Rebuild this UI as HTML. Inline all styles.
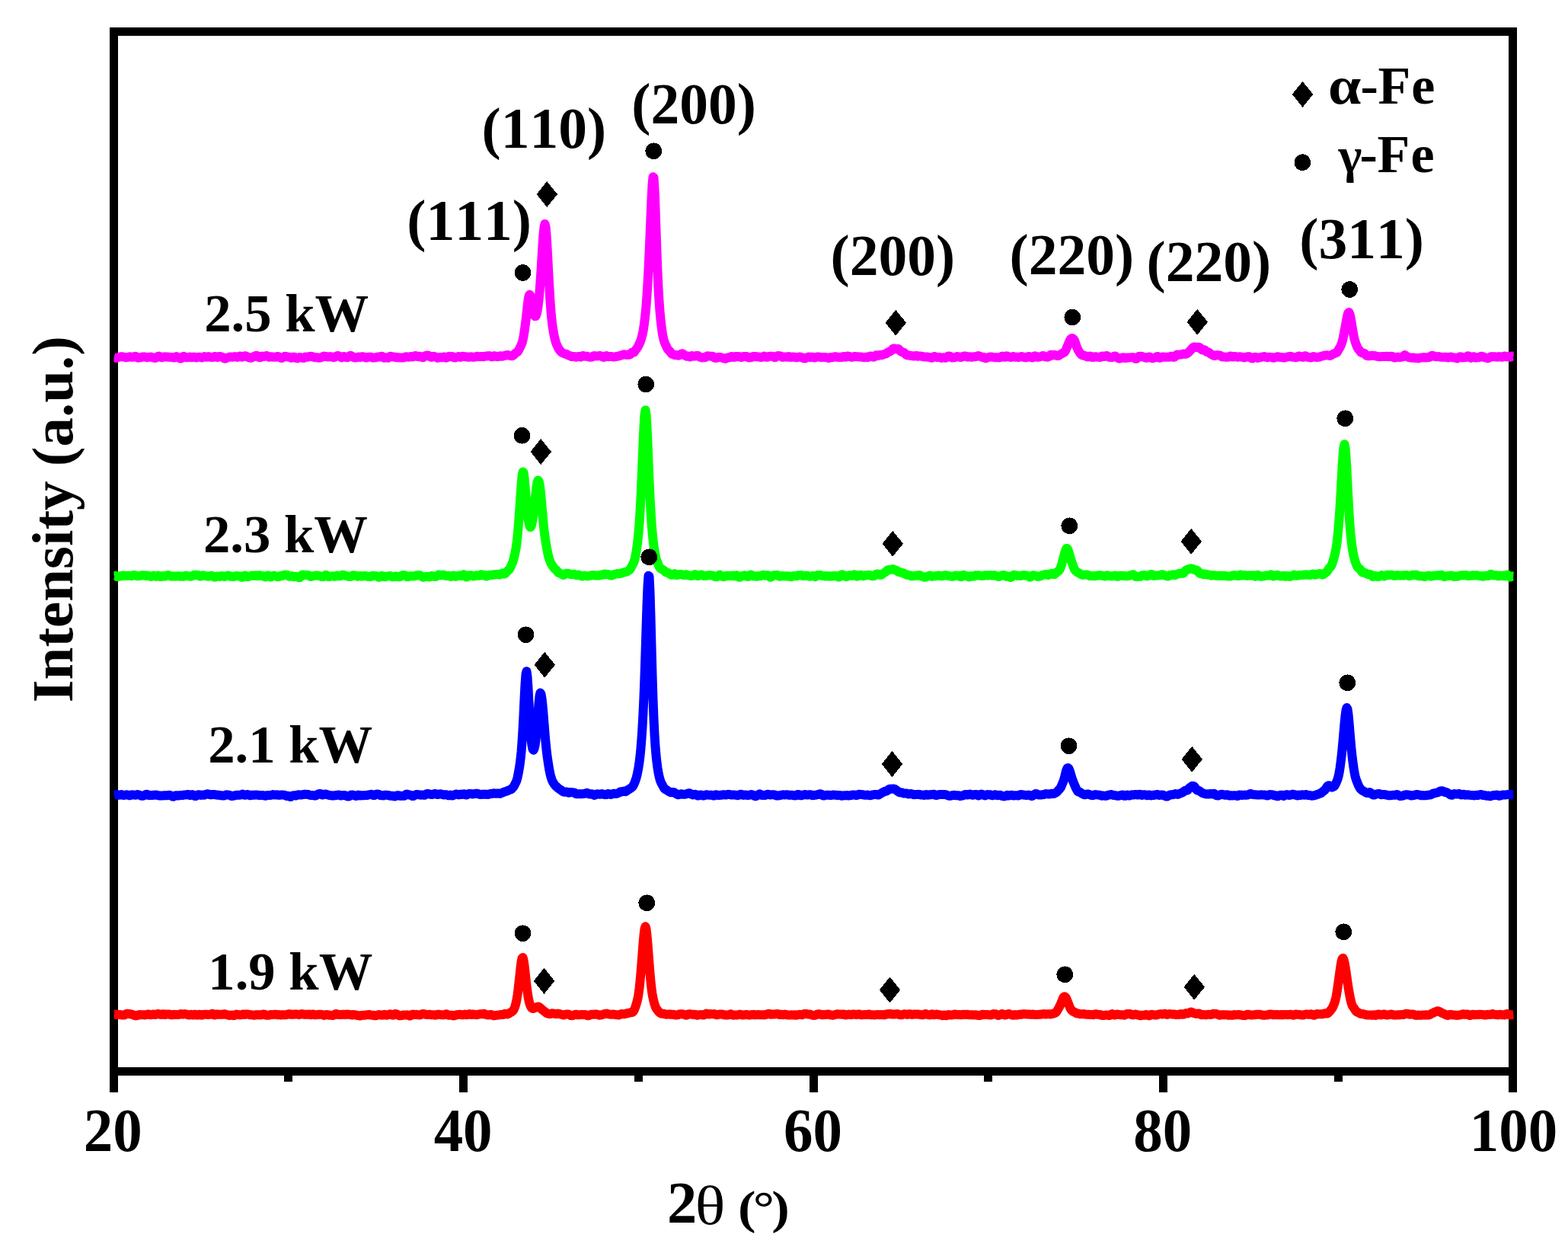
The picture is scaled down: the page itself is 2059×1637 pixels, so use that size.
<!DOCTYPE html>
<html lang="en"><head><meta charset="utf-8"><title>XRD patterns</title>
<style>html,body{margin:0;padding:0;background:#fff}body{width:2059px;height:1637px;overflow:hidden}svg{display:block}text{font-kerning:none;font-variant-ligatures:none;font-family:"Liberation Serif",serif;font-weight:bold;fill:#000}</style></head><body>
<svg width="2059" height="1637" viewBox="0 0 2059 1637">
<rect width="2059" height="1637" fill="#fff"/>
<g stroke="#000" stroke-width="11" fill="none" stroke-linecap="butt" stroke-linejoin="miter" shape-rendering="crispEdges">
<rect x="149.5" y="41.5" width="1837.0" height="1365.0"/>
<line x1="149.5" y1="1406.5" x2="149.5" y2="1434"/>
<line x1="608.5" y1="1406.5" x2="608.5" y2="1434"/>
<line x1="1068.5" y1="1406.5" x2="1068.5" y2="1434"/>
<line x1="1527.5" y1="1406.5" x2="1527.5" y2="1434"/>
<line x1="1986.5" y1="1406.5" x2="1986.5" y2="1434"/>
<line x1="378.5" y1="1406.5" x2="378.5" y2="1420"/>
<line x1="838.5" y1="1406.5" x2="838.5" y2="1420"/>
<line x1="1297.5" y1="1406.5" x2="1297.5" y2="1420"/>
<line x1="1757.5" y1="1406.5" x2="1757.5" y2="1420"/>
</g>
<clipPath id="pc"><rect x="149.5" y="41.5" width="1838.2" height="1365.0"/></clipPath>
<g fill="none" stroke-width="12" stroke-linejoin="round" stroke-linecap="butt" clip-path="url(#pc)">
<path stroke="#ff0000" d="M149.5,1331.5 L150.5,1331.6 L151.5,1331.6 L152.5,1331.6 L153.5,1331.8 L154.5,1332.0 L155.5,1332.0 L156.5,1331.9 L157.5,1332.0 L158.5,1332.2 L159.5,1332.4 L160.5,1332.6 L161.5,1332.6 L162.5,1332.6 L163.5,1332.4 L164.5,1331.8 L165.5,1331.1 L166.5,1330.7 L167.5,1330.8 L168.5,1331.0 L169.5,1331.1 L170.5,1331.1 L171.5,1331.3 L172.5,1331.4 L173.5,1331.7 L174.5,1332.1 L175.5,1332.5 L176.5,1333.0 L177.5,1333.3 L178.5,1333.4 L179.5,1333.2 L180.5,1332.9 L181.5,1332.4 L182.5,1332.1 L183.5,1332.0 L184.5,1332.2 L185.5,1332.3 L186.5,1332.2 L187.5,1332.1 L188.5,1332.2 L189.5,1332.4 L190.5,1332.4 L191.5,1332.2 L192.5,1332.0 L193.5,1331.6 L194.5,1331.4 L195.5,1331.6 L196.5,1332.0 L197.5,1332.3 L198.5,1332.3 L199.5,1331.9 L200.5,1331.5 L201.5,1331.5 L202.5,1331.8 L203.5,1332.0 L204.5,1332.0 L205.5,1331.6 L206.5,1331.2 L207.5,1331.0 L208.5,1331.2 L209.5,1331.5 L210.5,1331.8 L211.5,1331.9 L212.5,1331.6 L213.5,1331.2 L214.5,1331.3 L215.5,1331.8 L216.5,1332.0 L217.5,1331.8 L218.5,1331.5 L219.5,1331.4 L220.5,1331.4 L221.5,1331.4 L222.5,1331.6 L223.5,1331.9 L224.5,1332.2 L225.5,1332.4 L226.5,1332.3 L227.5,1332.0 L228.5,1331.8 L229.5,1331.9 L230.5,1332.1 L231.5,1332.1 L232.5,1332.1 L233.5,1332.1 L234.5,1331.9 L235.5,1331.7 L236.5,1331.4 L237.5,1331.1 L238.5,1331.2 L239.5,1331.5 L240.5,1331.5 L241.5,1331.2 L242.5,1331.1 L243.5,1331.2 L244.5,1331.5 L245.5,1331.8 L246.5,1332.1 L247.5,1332.4 L248.5,1332.5 L249.5,1332.2 L250.5,1331.7 L251.5,1331.7 L252.5,1332.2 L253.5,1332.5 L254.5,1332.2 L255.5,1331.8 L256.5,1331.7 L257.5,1332.1 L258.5,1332.6 L259.5,1332.6 L260.5,1332.1 L261.5,1331.8 L262.5,1331.8 L263.5,1332.2 L264.5,1332.7 L265.5,1332.6 L266.5,1332.0 L267.5,1331.7 L268.5,1331.8 L269.5,1331.8 L270.5,1331.7 L271.5,1331.7 L272.5,1331.9 L273.5,1331.9 L274.5,1331.9 L275.5,1331.8 L276.5,1331.6 L277.5,1331.1 L278.5,1330.7 L279.5,1330.9 L280.5,1331.8 L281.5,1332.5 L282.5,1332.5 L283.5,1332.0 L284.5,1331.5 L285.5,1331.4 L286.5,1331.6 L287.5,1331.8 L288.5,1331.9 L289.5,1331.8 L290.5,1331.7 L291.5,1331.7 L292.5,1331.7 L293.5,1331.4 L294.5,1331.2 L295.5,1331.3 L296.5,1331.7 L297.5,1332.1 L298.5,1332.2 L299.5,1332.4 L300.5,1332.7 L301.5,1333.0 L302.5,1332.9 L303.5,1332.6 L304.5,1332.5 L305.5,1332.8 L306.5,1333.2 L307.5,1333.1 L308.5,1332.5 L309.5,1331.9 L310.5,1331.6 L311.5,1331.8 L312.5,1332.0 L313.5,1332.2 L314.5,1332.2 L315.5,1332.2 L316.5,1332.2 L317.5,1332.1 L318.5,1331.7 L319.5,1331.5 L320.5,1331.8 L321.5,1331.9 L322.5,1331.7 L323.5,1331.5 L324.5,1331.6 L325.5,1331.6 L326.5,1331.7 L327.5,1331.9 L328.5,1332.2 L329.5,1332.3 L330.5,1332.3 L331.5,1332.4 L332.5,1332.6 L333.5,1332.8 L334.5,1332.6 L335.5,1332.3 L336.5,1332.1 L337.5,1332.2 L338.5,1332.4 L339.5,1332.3 L340.5,1332.1 L341.5,1332.2 L342.5,1332.4 L343.5,1332.3 L344.5,1331.9 L345.5,1331.5 L346.5,1331.4 L347.5,1331.7 L348.5,1332.2 L349.5,1332.6 L350.5,1332.7 L351.5,1332.7 L352.5,1332.7 L353.5,1332.7 L354.5,1332.3 L355.5,1331.9 L356.5,1331.9 L357.5,1331.9 L358.5,1331.9 L359.5,1331.9 L360.5,1331.8 L361.5,1331.7 L362.5,1331.8 L363.5,1332.1 L364.5,1332.2 L365.5,1332.1 L366.5,1332.1 L367.5,1332.4 L368.5,1332.5 L369.5,1332.3 L370.5,1332.2 L371.5,1332.2 L372.5,1332.3 L373.5,1332.2 L374.5,1332.2 L375.5,1332.2 L376.5,1332.0 L377.5,1331.6 L378.5,1331.2 L379.5,1331.3 L380.5,1331.6 L381.5,1331.7 L382.5,1331.5 L383.5,1331.6 L384.5,1331.8 L385.5,1331.8 L386.5,1331.5 L387.5,1331.4 L388.5,1331.5 L389.5,1331.6 L390.5,1331.6 L391.5,1331.7 L392.5,1332.0 L393.5,1332.0 L394.5,1331.6 L395.5,1331.2 L396.5,1331.1 L397.5,1331.2 L398.5,1331.5 L399.5,1331.8 L400.5,1331.9 L401.5,1331.8 L402.5,1331.8 L403.5,1331.8 L404.5,1331.6 L405.5,1331.5 L406.5,1331.7 L407.5,1332.1 L408.5,1332.2 L409.5,1331.8 L410.5,1331.4 L411.5,1331.5 L412.5,1332.0 L413.5,1332.3 L414.5,1332.2 L415.5,1332.1 L416.5,1332.0 L417.5,1332.0 L418.5,1331.8 L419.5,1331.7 L420.5,1331.7 L421.5,1331.8 L422.5,1331.9 L423.5,1332.1 L424.5,1332.5 L425.5,1332.9 L426.5,1332.7 L427.5,1332.2 L428.5,1331.9 L429.5,1331.9 L430.5,1332.2 L431.5,1332.5 L432.5,1332.7 L433.5,1332.8 L434.5,1332.8 L435.5,1332.9 L436.5,1333.0 L437.5,1333.0 L438.5,1332.5 L439.5,1331.8 L440.5,1331.1 L441.5,1331.0 L442.5,1331.3 L443.5,1331.7 L444.5,1332.0 L445.5,1332.0 L446.5,1332.0 L447.5,1332.1 L448.5,1332.1 L449.5,1331.8 L450.5,1331.7 L451.5,1331.8 L452.5,1332.1 L453.5,1332.1 L454.5,1331.8 L455.5,1331.5 L456.5,1331.6 L457.5,1331.7 L458.5,1331.8 L459.5,1331.9 L460.5,1332.1 L461.5,1332.4 L462.5,1332.5 L463.5,1332.2 L464.5,1332.0 L465.5,1332.1 L466.5,1332.3 L467.5,1332.5 L468.5,1332.7 L469.5,1333.0 L470.5,1333.2 L471.5,1333.4 L472.5,1333.5 L473.5,1333.3 L474.5,1333.0 L475.5,1332.8 L476.5,1332.8 L477.5,1332.8 L478.5,1332.7 L479.5,1332.6 L480.5,1332.4 L481.5,1332.3 L482.5,1332.3 L483.5,1332.1 L484.5,1332.1 L485.5,1332.1 L486.5,1332.4 L487.5,1332.6 L488.5,1332.7 L489.5,1332.7 L490.5,1332.8 L491.5,1333.1 L492.5,1333.3 L493.5,1333.2 L494.5,1333.0 L495.5,1332.6 L496.5,1332.2 L497.5,1332.1 L498.5,1332.1 L499.5,1332.3 L500.5,1332.5 L501.5,1332.7 L502.5,1332.6 L503.5,1332.1 L504.5,1331.7 L505.5,1332.0 L506.5,1332.5 L507.5,1332.7 L508.5,1332.6 L509.5,1332.3 L510.5,1331.9 L511.5,1331.5 L512.5,1331.2 L513.5,1331.6 L514.5,1332.3 L515.5,1332.7 L516.5,1332.6 L517.5,1331.9 L518.5,1331.1 L519.5,1330.9 L520.5,1331.2 L521.5,1331.7 L522.5,1332.3 L523.5,1332.9 L524.5,1333.2 L525.5,1333.3 L526.5,1333.1 L527.5,1333.0 L528.5,1332.7 L529.5,1332.5 L530.5,1332.4 L531.5,1332.5 L532.5,1332.6 L533.5,1332.5 L534.5,1332.3 L535.5,1332.5 L536.5,1333.0 L537.5,1333.5 L538.5,1333.6 L539.5,1333.1 L540.5,1332.3 L541.5,1331.7 L542.5,1331.6 L543.5,1331.9 L544.5,1332.1 L545.5,1332.0 L546.5,1331.8 L547.5,1331.9 L548.5,1332.2 L549.5,1332.4 L550.5,1332.5 L551.5,1332.4 L552.5,1332.1 L553.5,1331.6 L554.5,1331.1 L555.5,1330.9 L556.5,1331.1 L557.5,1331.3 L558.5,1331.6 L559.5,1331.9 L560.5,1332.0 L561.5,1332.0 L562.5,1332.0 L563.5,1331.8 L564.5,1331.8 L565.5,1331.9 L566.5,1332.2 L567.5,1332.3 L568.5,1332.2 L569.5,1332.2 L570.5,1332.5 L571.5,1332.7 L572.5,1332.5 L573.5,1332.1 L574.5,1331.8 L575.5,1331.6 L576.5,1331.7 L577.5,1332.0 L578.5,1332.1 L579.5,1332.2 L580.5,1332.3 L581.5,1332.3 L582.5,1332.3 L583.5,1332.1 L584.5,1331.7 L585.5,1331.3 L586.5,1331.3 L587.5,1331.9 L588.5,1332.5 L589.5,1332.8 L590.5,1332.8 L591.5,1332.7 L592.5,1332.6 L593.5,1332.7 L594.5,1333.1 L595.5,1333.4 L596.5,1333.3 L597.5,1333.0 L598.5,1332.5 L599.5,1332.3 L600.5,1332.2 L601.5,1332.0 L602.5,1331.9 L603.5,1331.8 L604.5,1331.8 L605.5,1332.0 L606.5,1332.2 L607.5,1332.3 L608.5,1332.3 L609.5,1331.9 L610.5,1331.6 L611.5,1331.7 L612.5,1332.1 L613.5,1332.3 L614.5,1331.9 L615.5,1331.3 L616.5,1331.1 L617.5,1331.6 L618.5,1332.0 L619.5,1332.0 L620.5,1331.7 L621.5,1331.5 L622.5,1331.6 L623.5,1331.8 L624.5,1332.1 L625.5,1332.2 L626.5,1332.0 L627.5,1331.8 L628.5,1331.6 L629.5,1331.4 L630.5,1331.2 L631.5,1331.1 L632.5,1331.2 L633.5,1331.2 L634.5,1330.9 L635.5,1330.7 L636.5,1331.2 L637.5,1331.7 L638.5,1332.0 L639.5,1332.2 L640.5,1332.4 L641.5,1332.4 L642.5,1332.3 L643.5,1332.0 L644.5,1331.9 L645.5,1332.1 L646.5,1332.6 L647.5,1333.1 L648.5,1333.3 L649.5,1333.1 L650.5,1333.0 L651.5,1332.9 L652.5,1332.7 L653.5,1332.6 L654.5,1332.5 L655.5,1332.3 L656.5,1332.1 L657.5,1332.0 L658.5,1332.0 L659.5,1332.1 L660.5,1332.0 L661.5,1331.4 L662.5,1330.9 L663.5,1330.8 L664.5,1331.1 L665.5,1331.4 L666.5,1331.5 L667.5,1331.0 L668.5,1330.2 L669.5,1329.6 L670.5,1329.1 L671.5,1328.5 L672.5,1327.8 L673.5,1327.0 L674.5,1325.6 L675.5,1323.5 L676.5,1320.7 L677.5,1317.1 L678.5,1312.2 L679.5,1306.1 L680.5,1298.5 L681.5,1289.7 L682.5,1280.3 L683.5,1270.9 L684.5,1263.0 L685.5,1257.9 L686.5,1257.0 L687.5,1260.4 L688.5,1267.1 L689.5,1275.7 L690.5,1285.1 L691.5,1294.1 L692.5,1301.8 L693.5,1308.4 L694.5,1313.6 L695.5,1317.5 L696.5,1320.4 L697.5,1322.3 L698.5,1323.4 L699.5,1323.9 L700.5,1323.9 L701.5,1323.5 L702.5,1322.9 L703.5,1322.4 L704.5,1322.2 L705.5,1321.8 L706.5,1321.5 L707.5,1321.6 L708.5,1322.3 L709.5,1323.3 L710.5,1324.2 L711.5,1325.0 L712.5,1325.8 L713.5,1326.6 L714.5,1327.4 L715.5,1328.2 L716.5,1328.9 L717.5,1329.7 L718.5,1330.3 L719.5,1330.6 L720.5,1330.8 L721.5,1331.1 L722.5,1331.1 L723.5,1330.7 L724.5,1330.3 L725.5,1330.3 L726.5,1330.5 L727.5,1330.6 L728.5,1330.7 L729.5,1331.0 L730.5,1331.2 L731.5,1331.0 L732.5,1330.6 L733.5,1330.7 L734.5,1331.0 L735.5,1331.3 L736.5,1331.6 L737.5,1331.7 L738.5,1332.0 L739.5,1332.4 L740.5,1332.5 L741.5,1332.0 L742.5,1331.7 L743.5,1331.6 L744.5,1331.6 L745.5,1331.4 L746.5,1331.6 L747.5,1331.9 L748.5,1332.4 L749.5,1333.0 L750.5,1333.2 L751.5,1333.1 L752.5,1332.9 L753.5,1332.7 L754.5,1332.2 L755.5,1331.7 L756.5,1331.7 L757.5,1331.9 L758.5,1332.2 L759.5,1332.3 L760.5,1332.2 L761.5,1332.1 L762.5,1332.0 L763.5,1331.9 L764.5,1332.0 L765.5,1332.1 L766.5,1332.1 L767.5,1331.9 L768.5,1331.9 L769.5,1332.2 L770.5,1332.8 L771.5,1333.2 L772.5,1333.2 L773.5,1332.9 L774.5,1332.6 L775.5,1332.1 L776.5,1331.8 L777.5,1331.7 L778.5,1331.7 L779.5,1331.8 L780.5,1331.7 L781.5,1331.5 L782.5,1331.4 L783.5,1331.5 L784.5,1331.9 L785.5,1332.3 L786.5,1332.6 L787.5,1332.7 L788.5,1332.5 L789.5,1332.3 L790.5,1332.1 L791.5,1331.7 L792.5,1331.4 L793.5,1331.2 L794.5,1331.0 L795.5,1330.7 L796.5,1330.6 L797.5,1330.9 L798.5,1331.3 L799.5,1331.4 L800.5,1331.5 L801.5,1331.6 L802.5,1331.7 L803.5,1331.7 L804.5,1331.6 L805.5,1331.5 L806.5,1331.6 L807.5,1331.8 L808.5,1332.1 L809.5,1332.2 L810.5,1332.2 L811.5,1332.3 L812.5,1332.5 L813.5,1332.2 L814.5,1331.5 L815.5,1331.1 L816.5,1331.0 L817.5,1331.2 L818.5,1331.3 L819.5,1331.3 L820.5,1331.1 L821.5,1330.8 L822.5,1330.5 L823.5,1330.3 L824.5,1330.0 L825.5,1329.8 L826.5,1329.6 L827.5,1329.4 L828.5,1329.1 L829.5,1329.0 L830.5,1328.8 L831.5,1328.0 L832.5,1326.4 L833.5,1324.2 L834.5,1321.5 L835.5,1318.4 L836.5,1315.0 L837.5,1310.7 L838.5,1305.0 L839.5,1297.5 L840.5,1288.1 L841.5,1277.0 L842.5,1264.6 L843.5,1251.6 L844.5,1238.8 L845.5,1227.5 L846.5,1219.4 L847.5,1216.2 L848.5,1219.1 L849.5,1227.4 L850.5,1238.9 L851.5,1252.0 L852.5,1265.2 L853.5,1277.6 L854.5,1288.5 L855.5,1297.6 L856.5,1304.7 L857.5,1310.2 L858.5,1314.5 L859.5,1318.2 L860.5,1321.2 L861.5,1323.4 L862.5,1324.9 L863.5,1326.2 L864.5,1327.5 L865.5,1328.6 L866.5,1329.5 L867.5,1330.2 L868.5,1330.6 L869.5,1330.7 L870.5,1330.7 L871.5,1330.8 L872.5,1331.0 L873.5,1331.4 L874.5,1331.6 L875.5,1331.7 L876.5,1331.6 L877.5,1331.4 L878.5,1331.5 L879.5,1331.7 L880.5,1331.6 L881.5,1331.6 L882.5,1331.7 L883.5,1331.8 L884.5,1331.8 L885.5,1332.0 L886.5,1332.4 L887.5,1332.6 L888.5,1332.5 L889.5,1332.3 L890.5,1332.1 L891.5,1331.7 L892.5,1331.2 L893.5,1331.2 L894.5,1331.3 L895.5,1331.3 L896.5,1331.4 L897.5,1331.6 L898.5,1331.9 L899.5,1332.1 L900.5,1332.6 L901.5,1332.7 L902.5,1332.2 L903.5,1331.5 L904.5,1331.2 L905.5,1331.2 L906.5,1331.3 L907.5,1331.5 L908.5,1331.6 L909.5,1331.7 L910.5,1331.9 L911.5,1331.9 L912.5,1331.8 L913.5,1332.0 L914.5,1332.5 L915.5,1332.8 L916.5,1332.6 L917.5,1332.3 L918.5,1332.2 L919.5,1332.1 L920.5,1332.0 L921.5,1332.1 L922.5,1332.3 L923.5,1332.5 L924.5,1332.3 L925.5,1331.8 L926.5,1331.0 L927.5,1330.5 L928.5,1330.6 L929.5,1331.2 L930.5,1331.5 L931.5,1331.3 L932.5,1331.0 L933.5,1331.1 L934.5,1331.3 L935.5,1331.3 L936.5,1331.2 L937.5,1331.1 L938.5,1331.2 L939.5,1331.7 L940.5,1332.2 L941.5,1332.3 L942.5,1332.1 L943.5,1331.8 L944.5,1331.6 L945.5,1331.6 L946.5,1331.6 L947.5,1331.6 L948.5,1331.6 L949.5,1331.8 L950.5,1332.1 L951.5,1332.4 L952.5,1332.5 L953.5,1332.5 L954.5,1332.5 L955.5,1332.5 L956.5,1332.4 L957.5,1332.1 L958.5,1331.6 L959.5,1331.3 L960.5,1331.6 L961.5,1332.2 L962.5,1332.7 L963.5,1332.6 L964.5,1332.4 L965.5,1332.4 L966.5,1332.5 L967.5,1332.4 L968.5,1332.4 L969.5,1332.2 L970.5,1331.8 L971.5,1331.6 L972.5,1331.7 L973.5,1332.1 L974.5,1332.4 L975.5,1332.5 L976.5,1332.4 L977.5,1332.3 L978.5,1332.1 L979.5,1331.9 L980.5,1331.9 L981.5,1332.1 L982.5,1332.3 L983.5,1332.5 L984.5,1332.5 L985.5,1332.4 L986.5,1332.1 L987.5,1332.0 L988.5,1332.0 L989.5,1332.2 L990.5,1332.1 L991.5,1332.1 L992.5,1332.2 L993.5,1332.3 L994.5,1332.1 L995.5,1331.9 L996.5,1332.1 L997.5,1332.2 L998.5,1332.3 L999.5,1332.3 L1000.5,1332.2 L1001.5,1332.2 L1002.5,1332.3 L1003.5,1332.4 L1004.5,1332.2 L1005.5,1331.9 L1006.5,1331.7 L1007.5,1331.4 L1008.5,1331.0 L1009.5,1330.8 L1010.5,1331.0 L1011.5,1331.4 L1012.5,1331.7 L1013.5,1331.6 L1014.5,1331.4 L1015.5,1331.4 L1016.5,1331.4 L1017.5,1331.4 L1018.5,1331.2 L1019.5,1331.1 L1020.5,1331.0 L1021.5,1331.2 L1022.5,1331.6 L1023.5,1331.9 L1024.5,1331.9 L1025.5,1331.7 L1026.5,1331.9 L1027.5,1332.3 L1028.5,1332.1 L1029.5,1331.7 L1030.5,1331.6 L1031.5,1331.8 L1032.5,1332.1 L1033.5,1332.3 L1034.5,1332.3 L1035.5,1332.5 L1036.5,1332.6 L1037.5,1332.6 L1038.5,1332.4 L1039.5,1332.3 L1040.5,1332.4 L1041.5,1332.5 L1042.5,1332.4 L1043.5,1332.2 L1044.5,1332.4 L1045.5,1332.7 L1046.5,1332.5 L1047.5,1332.1 L1048.5,1332.0 L1049.5,1331.9 L1050.5,1331.8 L1051.5,1332.0 L1052.5,1332.2 L1053.5,1332.2 L1054.5,1331.6 L1055.5,1331.2 L1056.5,1331.0 L1057.5,1330.9 L1058.5,1330.9 L1059.5,1331.1 L1060.5,1331.5 L1061.5,1331.5 L1062.5,1331.4 L1063.5,1331.6 L1064.5,1331.9 L1065.5,1332.3 L1066.5,1332.6 L1067.5,1332.8 L1068.5,1332.9 L1069.5,1332.9 L1070.5,1332.7 L1071.5,1332.3 L1072.5,1331.8 L1073.5,1331.5 L1074.5,1331.3 L1075.5,1331.2 L1076.5,1331.4 L1077.5,1331.7 L1078.5,1332.0 L1079.5,1332.2 L1080.5,1332.3 L1081.5,1332.1 L1082.5,1331.9 L1083.5,1332.0 L1084.5,1332.0 L1085.5,1331.8 L1086.5,1331.5 L1087.5,1331.4 L1088.5,1331.6 L1089.5,1332.0 L1090.5,1332.4 L1091.5,1332.5 L1092.5,1332.6 L1093.5,1332.7 L1094.5,1332.6 L1095.5,1332.3 L1096.5,1332.1 L1097.5,1331.8 L1098.5,1331.4 L1099.5,1331.3 L1100.5,1331.4 L1101.5,1331.6 L1102.5,1331.6 L1103.5,1331.5 L1104.5,1331.6 L1105.5,1331.7 L1106.5,1331.6 L1107.5,1331.4 L1108.5,1331.6 L1109.5,1332.2 L1110.5,1332.5 L1111.5,1332.4 L1112.5,1332.1 L1113.5,1331.8 L1114.5,1331.6 L1115.5,1331.7 L1116.5,1332.0 L1117.5,1332.2 L1118.5,1332.0 L1119.5,1331.5 L1120.5,1331.4 L1121.5,1331.5 L1122.5,1331.6 L1123.5,1331.9 L1124.5,1332.1 L1125.5,1331.9 L1126.5,1331.6 L1127.5,1331.4 L1128.5,1331.4 L1129.5,1331.8 L1130.5,1332.2 L1131.5,1332.3 L1132.5,1332.2 L1133.5,1332.1 L1134.5,1332.0 L1135.5,1331.9 L1136.5,1332.0 L1137.5,1332.1 L1138.5,1332.1 L1139.5,1331.7 L1140.5,1331.4 L1141.5,1331.5 L1142.5,1332.0 L1143.5,1332.3 L1144.5,1332.3 L1145.5,1332.2 L1146.5,1332.3 L1147.5,1332.4 L1148.5,1332.4 L1149.5,1332.3 L1150.5,1332.1 L1151.5,1332.0 L1152.5,1332.1 L1153.5,1332.1 L1154.5,1332.1 L1155.5,1332.2 L1156.5,1332.1 L1157.5,1331.9 L1158.5,1331.9 L1159.5,1332.2 L1160.5,1332.4 L1161.5,1332.3 L1162.5,1331.8 L1163.5,1331.4 L1164.5,1331.3 L1165.5,1331.4 L1166.5,1331.3 L1167.5,1331.0 L1168.5,1330.9 L1169.5,1331.0 L1170.5,1331.4 L1171.5,1331.6 L1172.5,1331.5 L1173.5,1331.5 L1174.5,1331.5 L1175.5,1331.3 L1176.5,1331.2 L1177.5,1331.2 L1178.5,1331.1 L1179.5,1331.3 L1180.5,1331.9 L1181.5,1332.3 L1182.5,1332.3 L1183.5,1332.3 L1184.5,1332.2 L1185.5,1331.8 L1186.5,1331.4 L1187.5,1331.3 L1188.5,1331.4 L1189.5,1331.5 L1190.5,1331.7 L1191.5,1331.9 L1192.5,1331.7 L1193.5,1331.4 L1194.5,1331.2 L1195.5,1331.3 L1196.5,1331.7 L1197.5,1331.9 L1198.5,1331.8 L1199.5,1331.6 L1200.5,1331.6 L1201.5,1331.5 L1202.5,1331.4 L1203.5,1331.4 L1204.5,1331.6 L1205.5,1331.6 L1206.5,1331.6 L1207.5,1331.7 L1208.5,1332.0 L1209.5,1332.2 L1210.5,1332.3 L1211.5,1332.3 L1212.5,1332.1 L1213.5,1331.6 L1214.5,1331.1 L1215.5,1331.0 L1216.5,1331.3 L1217.5,1331.7 L1218.5,1332.0 L1219.5,1332.1 L1220.5,1332.3 L1221.5,1332.3 L1222.5,1331.8 L1223.5,1331.3 L1224.5,1331.5 L1225.5,1332.0 L1226.5,1332.2 L1227.5,1332.1 L1228.5,1331.8 L1229.5,1331.5 L1230.5,1331.6 L1231.5,1331.8 L1232.5,1332.1 L1233.5,1332.2 L1234.5,1332.4 L1235.5,1332.5 L1236.5,1332.8 L1237.5,1333.2 L1238.5,1333.1 L1239.5,1332.6 L1240.5,1332.6 L1241.5,1333.0 L1242.5,1333.2 L1243.5,1332.9 L1244.5,1332.3 L1245.5,1332.0 L1246.5,1332.1 L1247.5,1332.4 L1248.5,1332.6 L1249.5,1332.5 L1250.5,1332.4 L1251.5,1332.2 L1252.5,1331.8 L1253.5,1331.4 L1254.5,1331.4 L1255.5,1331.7 L1256.5,1332.0 L1257.5,1332.1 L1258.5,1332.1 L1259.5,1332.1 L1260.5,1332.1 L1261.5,1332.3 L1262.5,1332.2 L1263.5,1332.0 L1264.5,1331.8 L1265.5,1331.8 L1266.5,1331.9 L1267.5,1332.0 L1268.5,1331.8 L1269.5,1331.7 L1270.5,1331.8 L1271.5,1332.1 L1272.5,1332.2 L1273.5,1332.2 L1274.5,1332.3 L1275.5,1332.3 L1276.5,1332.4 L1277.5,1332.3 L1278.5,1332.4 L1279.5,1332.4 L1280.5,1332.3 L1281.5,1332.2 L1282.5,1332.5 L1283.5,1332.8 L1284.5,1332.9 L1285.5,1333.0 L1286.5,1333.0 L1287.5,1332.8 L1288.5,1332.3 L1289.5,1331.9 L1290.5,1331.7 L1291.5,1331.8 L1292.5,1332.0 L1293.5,1332.1 L1294.5,1332.0 L1295.5,1331.9 L1296.5,1331.9 L1297.5,1332.1 L1298.5,1332.3 L1299.5,1332.4 L1300.5,1332.5 L1301.5,1332.5 L1302.5,1332.1 L1303.5,1331.4 L1304.5,1331.0 L1305.5,1331.1 L1306.5,1331.2 L1307.5,1331.3 L1308.5,1331.8 L1309.5,1332.5 L1310.5,1333.0 L1311.5,1332.8 L1312.5,1332.5 L1313.5,1332.1 L1314.5,1331.6 L1315.5,1331.1 L1316.5,1331.1 L1317.5,1331.6 L1318.5,1332.1 L1319.5,1332.4 L1320.5,1332.4 L1321.5,1332.2 L1322.5,1331.6 L1323.5,1331.1 L1324.5,1331.0 L1325.5,1331.2 L1326.5,1331.6 L1327.5,1331.9 L1328.5,1332.2 L1329.5,1332.6 L1330.5,1332.7 L1331.5,1332.4 L1332.5,1332.0 L1333.5,1332.1 L1334.5,1332.5 L1335.5,1332.6 L1336.5,1332.1 L1337.5,1331.7 L1338.5,1331.7 L1339.5,1331.8 L1340.5,1331.9 L1341.5,1331.7 L1342.5,1331.4 L1343.5,1331.2 L1344.5,1331.1 L1345.5,1331.2 L1346.5,1331.3 L1347.5,1331.4 L1348.5,1331.4 L1349.5,1331.4 L1350.5,1331.5 L1351.5,1331.5 L1352.5,1331.7 L1353.5,1331.8 L1354.5,1331.8 L1355.5,1331.6 L1356.5,1331.6 L1357.5,1331.8 L1358.5,1331.9 L1359.5,1332.1 L1360.5,1332.0 L1361.5,1331.9 L1362.5,1331.9 L1363.5,1331.9 L1364.5,1331.8 L1365.5,1331.7 L1366.5,1331.7 L1367.5,1331.5 L1368.5,1331.3 L1369.5,1331.2 L1370.5,1331.1 L1371.5,1331.1 L1372.5,1331.3 L1373.5,1331.5 L1374.5,1331.4 L1375.5,1331.2 L1376.5,1331.1 L1377.5,1331.3 L1378.5,1331.4 L1379.5,1331.4 L1380.5,1331.2 L1381.5,1331.0 L1382.5,1330.7 L1383.5,1330.4 L1384.5,1330.2 L1385.5,1329.8 L1386.5,1329.2 L1387.5,1328.0 L1388.5,1326.4 L1389.5,1324.6 L1390.5,1322.8 L1391.5,1321.0 L1392.5,1318.8 L1393.5,1316.6 L1394.5,1314.1 L1395.5,1311.4 L1396.5,1309.3 L1397.5,1308.3 L1398.5,1308.4 L1399.5,1309.4 L1400.5,1311.2 L1401.5,1313.7 L1402.5,1316.4 L1403.5,1319.1 L1404.5,1321.5 L1405.5,1323.7 L1406.5,1325.4 L1407.5,1326.6 L1408.5,1327.4 L1409.5,1328.0 L1410.5,1328.4 L1411.5,1328.8 L1412.5,1329.6 L1413.5,1330.2 L1414.5,1330.4 L1415.5,1330.4 L1416.5,1330.6 L1417.5,1331.0 L1418.5,1331.3 L1419.5,1331.3 L1420.5,1331.3 L1421.5,1331.3 L1422.5,1331.2 L1423.5,1331.1 L1424.5,1331.4 L1425.5,1331.6 L1426.5,1331.7 L1427.5,1331.7 L1428.5,1331.7 L1429.5,1331.7 L1430.5,1331.9 L1431.5,1332.1 L1432.5,1332.0 L1433.5,1331.9 L1434.5,1332.1 L1435.5,1332.2 L1436.5,1331.9 L1437.5,1331.5 L1438.5,1331.2 L1439.5,1331.3 L1440.5,1331.6 L1441.5,1331.8 L1442.5,1331.9 L1443.5,1331.9 L1444.5,1331.9 L1445.5,1332.3 L1446.5,1332.8 L1447.5,1333.1 L1448.5,1333.0 L1449.5,1332.7 L1450.5,1332.8 L1451.5,1332.8 L1452.5,1332.5 L1453.5,1332.4 L1454.5,1332.7 L1455.5,1332.9 L1456.5,1333.1 L1457.5,1332.9 L1458.5,1332.1 L1459.5,1331.3 L1460.5,1331.1 L1461.5,1331.6 L1462.5,1332.3 L1463.5,1332.6 L1464.5,1332.4 L1465.5,1331.9 L1466.5,1331.6 L1467.5,1331.6 L1468.5,1331.8 L1469.5,1331.9 L1470.5,1332.1 L1471.5,1332.2 L1472.5,1332.3 L1473.5,1332.3 L1474.5,1332.3 L1475.5,1332.6 L1476.5,1332.7 L1477.5,1332.3 L1478.5,1331.5 L1479.5,1331.1 L1480.5,1331.1 L1481.5,1331.1 L1482.5,1331.0 L1483.5,1331.0 L1484.5,1331.3 L1485.5,1331.9 L1486.5,1332.3 L1487.5,1332.4 L1488.5,1332.1 L1489.5,1331.8 L1490.5,1331.6 L1491.5,1331.6 L1492.5,1331.8 L1493.5,1332.2 L1494.5,1332.3 L1495.5,1332.6 L1496.5,1333.1 L1497.5,1333.3 L1498.5,1333.1 L1499.5,1332.8 L1500.5,1332.7 L1501.5,1332.7 L1502.5,1332.7 L1503.5,1332.4 L1504.5,1332.1 L1505.5,1332.1 L1506.5,1332.5 L1507.5,1333.0 L1508.5,1333.3 L1509.5,1333.2 L1510.5,1332.7 L1511.5,1332.0 L1512.5,1331.8 L1513.5,1331.9 L1514.5,1332.2 L1515.5,1332.4 L1516.5,1332.6 L1517.5,1332.6 L1518.5,1332.6 L1519.5,1332.3 L1520.5,1331.9 L1521.5,1331.5 L1522.5,1331.4 L1523.5,1331.3 L1524.5,1331.2 L1525.5,1331.4 L1526.5,1331.5 L1527.5,1331.4 L1528.5,1331.0 L1529.5,1330.8 L1530.5,1331.1 L1531.5,1331.7 L1532.5,1331.9 L1533.5,1331.6 L1534.5,1331.3 L1535.5,1331.1 L1536.5,1331.2 L1537.5,1331.3 L1538.5,1331.4 L1539.5,1331.4 L1540.5,1331.4 L1541.5,1331.4 L1542.5,1331.6 L1543.5,1331.9 L1544.5,1332.1 L1545.5,1332.1 L1546.5,1332.1 L1547.5,1332.1 L1548.5,1331.9 L1549.5,1331.3 L1550.5,1331.1 L1551.5,1331.4 L1552.5,1331.7 L1553.5,1331.7 L1554.5,1331.5 L1555.5,1330.9 L1556.5,1330.3 L1557.5,1330.1 L1558.5,1330.3 L1559.5,1330.4 L1560.5,1330.1 L1561.5,1329.5 L1562.5,1329.0 L1563.5,1328.6 L1564.5,1328.6 L1565.5,1329.0 L1566.5,1329.6 L1567.5,1330.0 L1568.5,1330.3 L1569.5,1330.6 L1570.5,1330.8 L1571.5,1330.9 L1572.5,1330.7 L1573.5,1330.4 L1574.5,1330.5 L1575.5,1331.1 L1576.5,1331.8 L1577.5,1332.2 L1578.5,1332.2 L1579.5,1332.0 L1580.5,1331.9 L1581.5,1332.1 L1582.5,1332.2 L1583.5,1332.3 L1584.5,1332.1 L1585.5,1331.9 L1586.5,1331.8 L1587.5,1331.7 L1588.5,1331.8 L1589.5,1332.0 L1590.5,1332.0 L1591.5,1331.6 L1592.5,1331.1 L1593.5,1330.8 L1594.5,1330.9 L1595.5,1330.9 L1596.5,1330.9 L1597.5,1331.1 L1598.5,1331.5 L1599.5,1332.0 L1600.5,1332.5 L1601.5,1332.7 L1602.5,1332.4 L1603.5,1332.2 L1604.5,1332.3 L1605.5,1332.3 L1606.5,1332.1 L1607.5,1332.2 L1608.5,1332.2 L1609.5,1332.2 L1610.5,1332.2 L1611.5,1332.3 L1612.5,1332.6 L1613.5,1332.8 L1614.5,1332.7 L1615.5,1332.5 L1616.5,1332.5 L1617.5,1332.8 L1618.5,1332.7 L1619.5,1332.4 L1620.5,1332.1 L1621.5,1332.1 L1622.5,1332.2 L1623.5,1332.3 L1624.5,1332.2 L1625.5,1332.0 L1626.5,1331.9 L1627.5,1332.0 L1628.5,1332.3 L1629.5,1332.5 L1630.5,1332.7 L1631.5,1332.9 L1632.5,1332.9 L1633.5,1332.9 L1634.5,1333.0 L1635.5,1332.8 L1636.5,1332.2 L1637.5,1331.8 L1638.5,1331.7 L1639.5,1331.8 L1640.5,1332.1 L1641.5,1332.4 L1642.5,1332.5 L1643.5,1332.4 L1644.5,1332.4 L1645.5,1332.3 L1646.5,1332.2 L1647.5,1332.2 L1648.5,1332.1 L1649.5,1331.8 L1650.5,1331.7 L1651.5,1331.8 L1652.5,1331.8 L1653.5,1331.7 L1654.5,1331.8 L1655.5,1332.1 L1656.5,1332.3 L1657.5,1332.5 L1658.5,1332.7 L1659.5,1332.7 L1660.5,1332.7 L1661.5,1332.6 L1662.5,1332.5 L1663.5,1332.5 L1664.5,1332.4 L1665.5,1332.1 L1666.5,1331.6 L1667.5,1331.4 L1668.5,1331.5 L1669.5,1331.7 L1670.5,1331.8 L1671.5,1332.1 L1672.5,1332.3 L1673.5,1332.1 L1674.5,1331.9 L1675.5,1332.1 L1676.5,1332.2 L1677.5,1332.0 L1678.5,1331.9 L1679.5,1332.2 L1680.5,1332.3 L1681.5,1332.1 L1682.5,1331.9 L1683.5,1332.2 L1684.5,1332.3 L1685.5,1332.0 L1686.5,1331.9 L1687.5,1332.0 L1688.5,1332.0 L1689.5,1332.0 L1690.5,1332.1 L1691.5,1332.2 L1692.5,1332.0 L1693.5,1331.7 L1694.5,1331.7 L1695.5,1331.9 L1696.5,1332.2 L1697.5,1332.5 L1698.5,1332.7 L1699.5,1332.4 L1700.5,1331.8 L1701.5,1331.5 L1702.5,1331.6 L1703.5,1331.8 L1704.5,1331.9 L1705.5,1332.0 L1706.5,1332.0 L1707.5,1332.2 L1708.5,1332.4 L1709.5,1332.4 L1710.5,1332.4 L1711.5,1332.4 L1712.5,1332.1 L1713.5,1331.7 L1714.5,1331.6 L1715.5,1331.6 L1716.5,1331.5 L1717.5,1331.6 L1718.5,1331.8 L1719.5,1331.7 L1720.5,1331.4 L1721.5,1331.3 L1722.5,1331.6 L1723.5,1332.1 L1724.5,1332.7 L1725.5,1332.8 L1726.5,1332.5 L1727.5,1331.9 L1728.5,1331.3 L1729.5,1331.0 L1730.5,1331.1 L1731.5,1331.3 L1732.5,1331.3 L1733.5,1331.3 L1734.5,1331.3 L1735.5,1331.2 L1736.5,1331.2 L1737.5,1331.1 L1738.5,1330.6 L1739.5,1330.2 L1740.5,1330.2 L1741.5,1330.5 L1742.5,1330.6 L1743.5,1330.2 L1744.5,1329.3 L1745.5,1328.3 L1746.5,1327.1 L1747.5,1325.9 L1748.5,1324.7 L1749.5,1323.3 L1750.5,1321.3 L1751.5,1318.8 L1752.5,1316.1 L1753.5,1312.9 L1754.5,1308.6 L1755.5,1302.9 L1756.5,1296.3 L1757.5,1289.3 L1758.5,1282.2 L1759.5,1274.9 L1760.5,1267.8 L1761.5,1262.1 L1762.5,1258.7 L1763.5,1257.8 L1764.5,1259.6 L1765.5,1263.6 L1766.5,1268.9 L1767.5,1275.4 L1768.5,1282.5 L1769.5,1289.6 L1770.5,1296.1 L1771.5,1302.1 L1772.5,1307.6 L1773.5,1312.5 L1774.5,1316.6 L1775.5,1319.6 L1776.5,1321.4 L1777.5,1322.8 L1778.5,1324.2 L1779.5,1325.8 L1780.5,1327.2 L1781.5,1328.2 L1782.5,1328.7 L1783.5,1329.1 L1784.5,1329.7 L1785.5,1330.4 L1786.5,1330.8 L1787.5,1331.0 L1788.5,1330.9 L1789.5,1330.9 L1790.5,1331.2 L1791.5,1331.6 L1792.5,1331.8 L1793.5,1332.0 L1794.5,1332.4 L1795.5,1332.6 L1796.5,1332.6 L1797.5,1332.5 L1798.5,1332.4 L1799.5,1332.4 L1800.5,1332.6 L1801.5,1332.8 L1802.5,1332.7 L1803.5,1332.3 L1804.5,1332.2 L1805.5,1332.6 L1806.5,1332.9 L1807.5,1332.7 L1808.5,1331.9 L1809.5,1331.4 L1810.5,1331.5 L1811.5,1331.8 L1812.5,1332.2 L1813.5,1332.4 L1814.5,1332.3 L1815.5,1331.9 L1816.5,1331.5 L1817.5,1331.4 L1818.5,1331.6 L1819.5,1332.1 L1820.5,1332.5 L1821.5,1332.6 L1822.5,1332.3 L1823.5,1332.1 L1824.5,1332.0 L1825.5,1331.8 L1826.5,1331.5 L1827.5,1331.5 L1828.5,1331.9 L1829.5,1332.3 L1830.5,1332.5 L1831.5,1332.5 L1832.5,1332.5 L1833.5,1332.5 L1834.5,1332.3 L1835.5,1332.3 L1836.5,1332.3 L1837.5,1332.4 L1838.5,1332.3 L1839.5,1332.0 L1840.5,1331.9 L1841.5,1332.0 L1842.5,1332.1 L1843.5,1331.9 L1844.5,1331.3 L1845.5,1330.9 L1846.5,1330.8 L1847.5,1330.8 L1848.5,1331.0 L1849.5,1331.2 L1850.5,1331.5 L1851.5,1331.7 L1852.5,1331.6 L1853.5,1331.5 L1854.5,1331.5 L1855.5,1331.5 L1856.5,1331.8 L1857.5,1332.4 L1858.5,1332.8 L1859.5,1332.9 L1860.5,1332.8 L1861.5,1332.6 L1862.5,1332.5 L1863.5,1332.6 L1864.5,1332.8 L1865.5,1332.8 L1866.5,1332.6 L1867.5,1332.5 L1868.5,1332.6 L1869.5,1332.6 L1870.5,1332.5 L1871.5,1332.3 L1872.5,1332.2 L1873.5,1332.3 L1874.5,1332.5 L1875.5,1332.6 L1876.5,1332.4 L1877.5,1332.0 L1878.5,1331.4 L1879.5,1330.7 L1880.5,1330.3 L1881.5,1330.0 L1882.5,1329.4 L1883.5,1328.8 L1884.5,1328.5 L1885.5,1328.2 L1886.5,1327.7 L1887.5,1327.2 L1888.5,1327.3 L1889.5,1327.7 L1890.5,1328.2 L1891.5,1328.7 L1892.5,1329.4 L1893.5,1329.9 L1894.5,1330.3 L1895.5,1330.6 L1896.5,1331.1 L1897.5,1331.6 L1898.5,1332.1 L1899.5,1332.5 L1900.5,1332.9 L1901.5,1332.9 L1902.5,1332.4 L1903.5,1332.0 L1904.5,1331.8 L1905.5,1331.9 L1906.5,1332.2 L1907.5,1332.3 L1908.5,1332.4 L1909.5,1332.4 L1910.5,1332.5 L1911.5,1332.6 L1912.5,1332.8 L1913.5,1332.9 L1914.5,1332.8 L1915.5,1332.6 L1916.5,1332.5 L1917.5,1332.4 L1918.5,1332.1 L1919.5,1331.7 L1920.5,1331.3 L1921.5,1331.3 L1922.5,1331.6 L1923.5,1331.8 L1924.5,1331.7 L1925.5,1331.5 L1926.5,1331.4 L1927.5,1331.6 L1928.5,1332.3 L1929.5,1332.8 L1930.5,1333.0 L1931.5,1332.7 L1932.5,1332.3 L1933.5,1331.8 L1934.5,1331.7 L1935.5,1332.0 L1936.5,1332.2 L1937.5,1332.2 L1938.5,1332.0 L1939.5,1331.9 L1940.5,1332.0 L1941.5,1332.1 L1942.5,1331.8 L1943.5,1331.7 L1944.5,1331.8 L1945.5,1331.9 L1946.5,1331.9 L1947.5,1331.9 L1948.5,1332.2 L1949.5,1332.5 L1950.5,1332.6 L1951.5,1332.4 L1952.5,1332.0 L1953.5,1331.8 L1954.5,1331.9 L1955.5,1332.0 L1956.5,1332.0 L1957.5,1331.9 L1958.5,1331.6 L1959.5,1331.1 L1960.5,1331.1 L1961.5,1331.5 L1962.5,1331.9 L1963.5,1332.0 L1964.5,1332.0 L1965.5,1332.2 L1966.5,1332.4 L1967.5,1332.3 L1968.5,1332.1 L1969.5,1331.8 L1970.5,1331.8 L1971.5,1332.0 L1972.5,1332.2 L1973.5,1332.3 L1974.5,1332.3 L1975.5,1332.4 L1976.5,1332.1 L1977.5,1331.5 L1978.5,1330.9 L1979.5,1331.1 L1980.5,1331.8 L1981.5,1332.2 L1982.5,1332.2 L1983.5,1332.1 L1984.5,1332.2 L1985.5,1332.2 L1986.5,1331.9 L1987.5,1331.7"/>
<path stroke="#0000ff" d="M149.5,1044.3 L150.5,1043.9 L151.5,1043.4 L152.5,1043.2 L153.5,1043.2 L154.5,1043.2 L155.5,1043.4 L156.5,1043.7 L157.5,1043.8 L158.5,1043.4 L159.5,1043.1 L160.5,1043.4 L161.5,1043.9 L162.5,1044.0 L163.5,1043.9 L164.5,1043.7 L165.5,1043.5 L166.5,1043.3 L167.5,1043.4 L168.5,1043.8 L169.5,1044.2 L170.5,1044.3 L171.5,1044.0 L172.5,1043.5 L173.5,1043.3 L174.5,1043.4 L175.5,1043.5 L176.5,1043.6 L177.5,1043.7 L178.5,1043.7 L179.5,1043.3 L180.5,1043.0 L181.5,1043.1 L182.5,1043.5 L183.5,1043.8 L184.5,1044.2 L185.5,1044.6 L186.5,1044.8 L187.5,1044.7 L188.5,1044.4 L189.5,1044.1 L190.5,1043.6 L191.5,1043.0 L192.5,1042.7 L193.5,1043.0 L194.5,1043.7 L195.5,1044.0 L196.5,1043.9 L197.5,1043.9 L198.5,1044.1 L199.5,1044.1 L200.5,1043.7 L201.5,1043.7 L202.5,1043.8 L203.5,1043.7 L204.5,1043.5 L205.5,1043.6 L206.5,1043.9 L207.5,1044.1 L208.5,1044.4 L209.5,1044.5 L210.5,1044.5 L211.5,1044.5 L212.5,1044.5 L213.5,1044.5 L214.5,1044.4 L215.5,1044.2 L216.5,1044.2 L217.5,1044.3 L218.5,1044.3 L219.5,1044.2 L220.5,1044.0 L221.5,1043.8 L222.5,1043.8 L223.5,1044.1 L224.5,1044.4 L225.5,1044.9 L226.5,1045.5 L227.5,1045.7 L228.5,1045.4 L229.5,1044.8 L230.5,1044.4 L231.5,1044.2 L232.5,1044.3 L233.5,1044.5 L234.5,1044.6 L235.5,1044.3 L236.5,1043.9 L237.5,1043.9 L238.5,1044.1 L239.5,1044.1 L240.5,1043.7 L241.5,1043.4 L242.5,1043.4 L243.5,1043.6 L244.5,1043.4 L245.5,1043.1 L246.5,1042.9 L247.5,1042.9 L248.5,1043.5 L249.5,1044.1 L250.5,1043.9 L251.5,1043.2 L252.5,1043.1 L253.5,1043.5 L254.5,1044.2 L255.5,1044.8 L256.5,1045.0 L257.5,1044.8 L258.5,1044.2 L259.5,1043.6 L260.5,1043.3 L261.5,1043.2 L262.5,1043.5 L263.5,1043.9 L264.5,1043.8 L265.5,1043.6 L266.5,1043.6 L267.5,1043.7 L268.5,1043.6 L269.5,1043.2 L270.5,1042.7 L271.5,1042.4 L272.5,1042.3 L273.5,1042.4 L274.5,1042.7 L275.5,1043.1 L276.5,1043.3 L277.5,1043.4 L278.5,1043.2 L279.5,1043.0 L280.5,1043.0 L281.5,1043.2 L282.5,1043.1 L283.5,1043.2 L284.5,1043.6 L285.5,1043.7 L286.5,1043.6 L287.5,1043.7 L288.5,1044.0 L289.5,1044.2 L290.5,1044.2 L291.5,1044.3 L292.5,1044.5 L293.5,1044.6 L294.5,1044.4 L295.5,1044.0 L296.5,1043.6 L297.5,1043.3 L298.5,1043.4 L299.5,1043.5 L300.5,1043.6 L301.5,1043.9 L302.5,1044.4 L303.5,1044.8 L304.5,1045.0 L305.5,1044.8 L306.5,1044.6 L307.5,1044.5 L308.5,1044.4 L309.5,1044.0 L310.5,1043.7 L311.5,1043.7 L312.5,1043.8 L313.5,1043.8 L314.5,1043.7 L315.5,1043.6 L316.5,1043.4 L317.5,1042.9 L318.5,1042.6 L319.5,1042.9 L320.5,1043.5 L321.5,1043.8 L322.5,1043.7 L323.5,1043.3 L324.5,1043.0 L325.5,1043.0 L326.5,1043.4 L327.5,1043.9 L328.5,1044.2 L329.5,1044.1 L330.5,1043.7 L331.5,1043.6 L332.5,1043.7 L333.5,1043.8 L334.5,1043.6 L335.5,1043.5 L336.5,1043.4 L337.5,1043.6 L338.5,1043.7 L339.5,1043.8 L340.5,1044.0 L341.5,1044.1 L342.5,1044.0 L343.5,1043.9 L344.5,1043.9 L345.5,1044.1 L346.5,1044.3 L347.5,1044.6 L348.5,1044.7 L349.5,1044.6 L350.5,1044.3 L351.5,1044.0 L352.5,1044.0 L353.5,1044.0 L354.5,1043.9 L355.5,1043.9 L356.5,1043.8 L357.5,1043.4 L358.5,1043.1 L359.5,1043.3 L360.5,1043.6 L361.5,1043.6 L362.5,1043.4 L363.5,1043.3 L364.5,1043.5 L365.5,1043.8 L366.5,1043.9 L367.5,1043.8 L368.5,1043.6 L369.5,1043.6 L370.5,1043.5 L371.5,1043.5 L372.5,1043.6 L373.5,1043.7 L374.5,1044.1 L375.5,1044.6 L376.5,1044.9 L377.5,1044.8 L378.5,1044.7 L379.5,1045.1 L380.5,1045.8 L381.5,1046.1 L382.5,1045.6 L383.5,1044.8 L384.5,1044.4 L385.5,1044.3 L386.5,1044.3 L387.5,1044.4 L388.5,1044.4 L389.5,1044.1 L390.5,1043.6 L391.5,1043.2 L392.5,1043.2 L393.5,1043.5 L394.5,1043.6 L395.5,1043.6 L396.5,1043.4 L397.5,1043.2 L398.5,1043.0 L399.5,1042.8 L400.5,1042.7 L401.5,1042.7 L402.5,1042.9 L403.5,1043.0 L404.5,1043.0 L405.5,1043.2 L406.5,1043.6 L407.5,1044.0 L408.5,1044.1 L409.5,1044.0 L410.5,1043.9 L411.5,1044.1 L412.5,1044.5 L413.5,1044.6 L414.5,1044.4 L415.5,1044.0 L416.5,1043.3 L417.5,1042.6 L418.5,1042.1 L419.5,1042.0 L420.5,1042.0 L421.5,1042.3 L422.5,1043.0 L423.5,1043.6 L424.5,1043.4 L425.5,1042.9 L426.5,1042.5 L427.5,1042.5 L428.5,1042.8 L429.5,1043.1 L430.5,1043.4 L431.5,1043.8 L432.5,1044.1 L433.5,1044.1 L434.5,1044.2 L435.5,1044.4 L436.5,1044.6 L437.5,1044.5 L438.5,1044.3 L439.5,1044.2 L440.5,1044.2 L441.5,1043.9 L442.5,1043.7 L443.5,1043.6 L444.5,1043.5 L445.5,1043.7 L446.5,1044.2 L447.5,1044.5 L448.5,1044.4 L449.5,1044.2 L450.5,1044.1 L451.5,1043.9 L452.5,1043.9 L453.5,1044.2 L454.5,1044.6 L455.5,1045.1 L456.5,1045.5 L457.5,1045.6 L458.5,1045.3 L459.5,1044.6 L460.5,1043.8 L461.5,1043.4 L462.5,1043.5 L463.5,1043.7 L464.5,1043.9 L465.5,1044.2 L466.5,1044.6 L467.5,1044.9 L468.5,1044.8 L469.5,1044.1 L470.5,1043.6 L471.5,1043.7 L472.5,1044.1 L473.5,1044.4 L474.5,1044.3 L475.5,1044.2 L476.5,1044.1 L477.5,1044.2 L478.5,1044.1 L479.5,1044.0 L480.5,1044.0 L481.5,1044.1 L482.5,1044.0 L483.5,1043.6 L484.5,1043.3 L485.5,1043.1 L486.5,1043.0 L487.5,1042.8 L488.5,1043.1 L489.5,1043.7 L490.5,1044.1 L491.5,1044.1 L492.5,1043.6 L493.5,1042.9 L494.5,1042.6 L495.5,1042.5 L496.5,1042.6 L497.5,1042.8 L498.5,1043.4 L499.5,1044.0 L500.5,1044.2 L501.5,1044.3 L502.5,1044.3 L503.5,1044.4 L504.5,1044.1 L505.5,1043.7 L506.5,1043.6 L507.5,1043.7 L508.5,1043.9 L509.5,1043.9 L510.5,1044.1 L511.5,1044.4 L512.5,1044.7 L513.5,1044.7 L514.5,1044.6 L515.5,1044.7 L516.5,1045.0 L517.5,1045.4 L518.5,1045.5 L519.5,1045.1 L520.5,1044.6 L521.5,1044.3 L522.5,1044.3 L523.5,1044.3 L524.5,1044.6 L525.5,1044.8 L526.5,1044.9 L527.5,1044.8 L528.5,1044.7 L529.5,1044.8 L530.5,1044.8 L531.5,1044.3 L532.5,1043.4 L533.5,1042.7 L534.5,1042.6 L535.5,1042.8 L536.5,1043.2 L537.5,1043.5 L538.5,1043.7 L539.5,1043.9 L540.5,1044.4 L541.5,1045.0 L542.5,1045.1 L543.5,1044.6 L544.5,1044.0 L545.5,1043.5 L546.5,1043.0 L547.5,1042.9 L548.5,1043.0 L549.5,1043.1 L550.5,1043.3 L551.5,1043.5 L552.5,1043.7 L553.5,1043.6 L554.5,1043.5 L555.5,1043.6 L556.5,1043.8 L557.5,1043.8 L558.5,1043.2 L559.5,1042.5 L560.5,1042.0 L561.5,1042.0 L562.5,1042.2 L563.5,1042.5 L564.5,1042.7 L565.5,1042.9 L566.5,1043.0 L567.5,1043.0 L568.5,1042.7 L569.5,1042.4 L570.5,1042.1 L571.5,1041.9 L572.5,1042.2 L573.5,1042.7 L574.5,1043.1 L575.5,1043.0 L576.5,1042.6 L577.5,1042.4 L578.5,1042.3 L579.5,1042.5 L580.5,1042.8 L581.5,1043.2 L582.5,1043.4 L583.5,1043.4 L584.5,1043.2 L585.5,1043.1 L586.5,1043.3 L587.5,1043.7 L588.5,1044.2 L589.5,1044.3 L590.5,1043.8 L591.5,1043.6 L592.5,1043.9 L593.5,1044.4 L594.5,1044.4 L595.5,1044.0 L596.5,1043.5 L597.5,1043.0 L598.5,1042.6 L599.5,1042.6 L600.5,1042.9 L601.5,1043.3 L602.5,1043.4 L603.5,1043.0 L604.5,1042.7 L605.5,1042.6 L606.5,1042.9 L607.5,1042.9 L608.5,1042.5 L609.5,1042.2 L610.5,1042.7 L611.5,1043.3 L612.5,1043.5 L613.5,1043.2 L614.5,1042.7 L615.5,1042.2 L616.5,1042.0 L617.5,1042.0 L618.5,1042.2 L619.5,1042.4 L620.5,1042.5 L621.5,1042.4 L622.5,1042.1 L623.5,1042.0 L624.5,1041.8 L625.5,1041.7 L626.5,1041.8 L627.5,1042.0 L628.5,1042.4 L629.5,1042.8 L630.5,1043.1 L631.5,1043.1 L632.5,1042.9 L633.5,1042.7 L634.5,1042.6 L635.5,1042.7 L636.5,1042.9 L637.5,1042.8 L638.5,1042.7 L639.5,1042.8 L640.5,1043.0 L641.5,1042.9 L642.5,1042.5 L643.5,1042.1 L644.5,1042.1 L645.5,1042.1 L646.5,1041.9 L647.5,1041.5 L648.5,1041.3 L649.5,1041.5 L650.5,1041.7 L651.5,1041.8 L652.5,1041.7 L653.5,1041.5 L654.5,1041.5 L655.5,1041.8 L656.5,1041.9 L657.5,1041.5 L658.5,1041.0 L659.5,1040.7 L660.5,1040.3 L661.5,1039.8 L662.5,1039.3 L663.5,1039.1 L664.5,1038.9 L665.5,1038.5 L666.5,1038.1 L667.5,1037.6 L668.5,1037.2 L669.5,1036.8 L670.5,1036.5 L671.5,1035.9 L672.5,1034.9 L673.5,1033.8 L674.5,1032.6 L675.5,1031.0 L676.5,1028.9 L677.5,1026.9 L678.5,1024.4 L679.5,1020.8 L680.5,1016.0 L681.5,1010.7 L682.5,1004.5 L683.5,996.8 L684.5,987.0 L685.5,974.4 L686.5,958.3 L687.5,939.0 L688.5,918.1 L689.5,898.7 L690.5,885.1 L691.5,881.3 L692.5,888.3 L693.5,903.3 L694.5,922.0 L695.5,940.9 L696.5,957.3 L697.5,969.9 L698.5,978.6 L699.5,983.4 L700.5,984.7 L701.5,983.0 L702.5,978.7 L703.5,971.8 L704.5,962.4 L705.5,950.4 L706.5,936.7 L707.5,923.5 L708.5,913.7 L709.5,909.5 L710.5,911.2 L711.5,917.0 L712.5,926.1 L713.5,937.4 L714.5,949.9 L715.5,962.6 L716.5,974.1 L717.5,983.8 L718.5,992.1 L719.5,999.1 L720.5,1005.5 L721.5,1011.4 L722.5,1016.3 L723.5,1020.2 L724.5,1023.2 L725.5,1025.6 L726.5,1027.4 L727.5,1028.9 L728.5,1030.3 L729.5,1031.6 L730.5,1032.5 L731.5,1033.3 L732.5,1034.2 L733.5,1035.1 L734.5,1035.8 L735.5,1036.3 L736.5,1037.0 L737.5,1037.8 L738.5,1038.7 L739.5,1039.3 L740.5,1039.7 L741.5,1039.7 L742.5,1039.6 L743.5,1039.5 L744.5,1039.7 L745.5,1040.3 L746.5,1040.7 L747.5,1040.6 L748.5,1040.3 L749.5,1040.0 L750.5,1040.1 L751.5,1040.3 L752.5,1040.4 L753.5,1040.5 L754.5,1040.8 L755.5,1041.5 L756.5,1042.1 L757.5,1042.3 L758.5,1042.3 L759.5,1042.2 L760.5,1042.1 L761.5,1042.2 L762.5,1042.3 L763.5,1042.3 L764.5,1042.2 L765.5,1042.1 L766.5,1042.0 L767.5,1041.9 L768.5,1041.6 L769.5,1041.3 L770.5,1040.9 L771.5,1041.1 L772.5,1041.7 L773.5,1042.3 L774.5,1042.5 L775.5,1042.3 L776.5,1042.2 L777.5,1042.4 L778.5,1043.0 L779.5,1043.6 L780.5,1043.9 L781.5,1043.7 L782.5,1043.1 L783.5,1042.5 L784.5,1042.3 L785.5,1042.4 L786.5,1042.6 L787.5,1042.8 L788.5,1042.6 L789.5,1042.2 L790.5,1042.1 L791.5,1042.3 L792.5,1042.7 L793.5,1043.0 L794.5,1043.1 L795.5,1043.2 L796.5,1043.0 L797.5,1042.4 L798.5,1041.9 L799.5,1042.2 L800.5,1042.7 L801.5,1042.9 L802.5,1042.9 L803.5,1042.7 L804.5,1042.1 L805.5,1041.7 L806.5,1041.8 L807.5,1041.9 L808.5,1042.0 L809.5,1042.0 L810.5,1041.6 L811.5,1041.2 L812.5,1040.8 L813.5,1040.1 L814.5,1039.5 L815.5,1039.3 L816.5,1039.4 L817.5,1039.2 L818.5,1038.7 L819.5,1038.6 L820.5,1039.0 L821.5,1039.2 L822.5,1038.6 L823.5,1037.7 L824.5,1036.9 L825.5,1036.4 L826.5,1035.9 L827.5,1035.2 L828.5,1034.5 L829.5,1033.8 L830.5,1032.8 L831.5,1031.3 L832.5,1029.4 L833.5,1027.1 L834.5,1024.4 L835.5,1021.3 L836.5,1017.5 L837.5,1012.8 L838.5,1007.2 L839.5,1000.6 L840.5,992.5 L841.5,982.3 L842.5,969.8 L843.5,954.6 L844.5,936.5 L845.5,914.5 L846.5,888.2 L847.5,858.1 L848.5,825.9 L849.5,795.0 L850.5,770.0 L851.5,755.8 L852.5,756.5 L853.5,776.3 L854.5,809.8 L855.5,848.4 L856.5,885.5 L857.5,917.5 L858.5,943.3 L859.5,963.7 L860.5,979.5 L861.5,991.5 L862.5,1000.8 L863.5,1008.1 L864.5,1014.2 L865.5,1019.1 L866.5,1023.0 L867.5,1026.0 L868.5,1028.1 L869.5,1030.0 L870.5,1031.8 L871.5,1033.7 L872.5,1035.3 L873.5,1036.1 L874.5,1036.5 L875.5,1037.2 L876.5,1037.9 L877.5,1038.5 L878.5,1039.0 L879.5,1039.7 L880.5,1040.2 L881.5,1040.3 L882.5,1040.0 L883.5,1039.9 L884.5,1040.0 L885.5,1040.4 L886.5,1041.1 L887.5,1041.8 L888.5,1042.3 L889.5,1042.8 L890.5,1043.3 L891.5,1043.3 L892.5,1042.9 L893.5,1042.4 L894.5,1042.3 L895.5,1042.4 L896.5,1042.7 L897.5,1042.8 L898.5,1042.7 L899.5,1042.7 L900.5,1042.6 L901.5,1042.3 L902.5,1041.9 L903.5,1041.5 L904.5,1041.2 L905.5,1041.3 L906.5,1041.7 L907.5,1042.4 L908.5,1043.0 L909.5,1043.5 L910.5,1043.4 L911.5,1043.0 L912.5,1042.8 L913.5,1042.9 L914.5,1043.5 L915.5,1044.2 L916.5,1044.6 L917.5,1044.4 L918.5,1043.8 L919.5,1043.4 L920.5,1043.5 L921.5,1043.9 L922.5,1044.3 L923.5,1044.5 L924.5,1044.5 L925.5,1044.1 L926.5,1043.6 L927.5,1043.3 L928.5,1043.3 L929.5,1043.5 L930.5,1043.6 L931.5,1043.7 L932.5,1043.7 L933.5,1043.6 L934.5,1043.7 L935.5,1044.1 L936.5,1044.5 L937.5,1044.6 L938.5,1044.1 L939.5,1043.4 L940.5,1043.2 L941.5,1043.5 L942.5,1043.9 L943.5,1044.1 L944.5,1044.0 L945.5,1043.8 L946.5,1043.7 L947.5,1043.7 L948.5,1043.6 L949.5,1043.3 L950.5,1043.2 L951.5,1043.3 L952.5,1043.5 L953.5,1043.6 L954.5,1043.3 L955.5,1043.0 L956.5,1042.8 L957.5,1043.0 L958.5,1043.2 L959.5,1043.4 L960.5,1043.4 L961.5,1043.5 L962.5,1043.5 L963.5,1043.5 L964.5,1043.5 L965.5,1043.6 L966.5,1043.7 L967.5,1044.0 L968.5,1044.2 L969.5,1043.9 L970.5,1043.5 L971.5,1043.1 L972.5,1042.8 L973.5,1042.8 L974.5,1043.2 L975.5,1043.8 L976.5,1043.9 L977.5,1043.7 L978.5,1043.4 L979.5,1043.5 L980.5,1043.8 L981.5,1044.0 L982.5,1044.0 L983.5,1043.9 L984.5,1043.6 L985.5,1043.3 L986.5,1043.0 L987.5,1043.1 L988.5,1043.6 L989.5,1044.2 L990.5,1044.8 L991.5,1045.2 L992.5,1045.2 L993.5,1044.8 L994.5,1044.2 L995.5,1043.5 L996.5,1042.7 L997.5,1042.3 L998.5,1042.8 L999.5,1043.6 L1000.5,1043.9 L1001.5,1043.7 L1002.5,1043.7 L1003.5,1044.0 L1004.5,1044.1 L1005.5,1043.8 L1006.5,1043.2 L1007.5,1042.8 L1008.5,1042.8 L1009.5,1043.0 L1010.5,1043.3 L1011.5,1043.5 L1012.5,1043.4 L1013.5,1043.3 L1014.5,1043.3 L1015.5,1043.2 L1016.5,1043.2 L1017.5,1043.5 L1018.5,1044.1 L1019.5,1044.5 L1020.5,1044.6 L1021.5,1044.5 L1022.5,1044.3 L1023.5,1044.2 L1024.5,1044.1 L1025.5,1043.8 L1026.5,1043.6 L1027.5,1043.4 L1028.5,1043.3 L1029.5,1043.4 L1030.5,1043.5 L1031.5,1043.4 L1032.5,1043.3 L1033.5,1043.3 L1034.5,1043.4 L1035.5,1043.7 L1036.5,1043.9 L1037.5,1043.8 L1038.5,1043.7 L1039.5,1043.7 L1040.5,1043.9 L1041.5,1044.1 L1042.5,1044.3 L1043.5,1044.4 L1044.5,1044.4 L1045.5,1044.3 L1046.5,1043.7 L1047.5,1043.0 L1048.5,1042.9 L1049.5,1043.3 L1050.5,1043.8 L1051.5,1044.3 L1052.5,1044.3 L1053.5,1044.0 L1054.5,1043.6 L1055.5,1043.3 L1056.5,1043.1 L1057.5,1043.1 L1058.5,1043.3 L1059.5,1043.5 L1060.5,1043.5 L1061.5,1043.3 L1062.5,1043.2 L1063.5,1043.2 L1064.5,1043.3 L1065.5,1043.6 L1066.5,1044.1 L1067.5,1044.2 L1068.5,1044.0 L1069.5,1043.7 L1070.5,1043.7 L1071.5,1043.7 L1072.5,1043.3 L1073.5,1043.1 L1074.5,1043.1 L1075.5,1042.8 L1076.5,1042.3 L1077.5,1042.2 L1078.5,1042.7 L1079.5,1043.6 L1080.5,1044.3 L1081.5,1044.6 L1082.5,1044.4 L1083.5,1044.0 L1084.5,1043.7 L1085.5,1043.7 L1086.5,1043.7 L1087.5,1043.6 L1088.5,1043.7 L1089.5,1043.9 L1090.5,1044.1 L1091.5,1044.0 L1092.5,1043.7 L1093.5,1043.4 L1094.5,1043.4 L1095.5,1043.6 L1096.5,1043.7 L1097.5,1043.7 L1098.5,1043.8 L1099.5,1044.1 L1100.5,1044.2 L1101.5,1044.0 L1102.5,1044.0 L1103.5,1044.1 L1104.5,1044.4 L1105.5,1044.7 L1106.5,1044.6 L1107.5,1044.4 L1108.5,1044.3 L1109.5,1044.3 L1110.5,1044.3 L1111.5,1044.1 L1112.5,1044.0 L1113.5,1044.3 L1114.5,1044.5 L1115.5,1044.4 L1116.5,1044.2 L1117.5,1044.0 L1118.5,1043.8 L1119.5,1043.5 L1120.5,1043.4 L1121.5,1043.4 L1122.5,1043.6 L1123.5,1043.9 L1124.5,1044.1 L1125.5,1043.9 L1126.5,1043.3 L1127.5,1042.8 L1128.5,1042.8 L1129.5,1042.9 L1130.5,1043.0 L1131.5,1043.0 L1132.5,1043.1 L1133.5,1043.4 L1134.5,1043.6 L1135.5,1043.7 L1136.5,1043.8 L1137.5,1043.8 L1138.5,1043.6 L1139.5,1043.6 L1140.5,1043.8 L1141.5,1044.1 L1142.5,1044.2 L1143.5,1044.1 L1144.5,1043.8 L1145.5,1043.5 L1146.5,1043.3 L1147.5,1043.1 L1148.5,1042.9 L1149.5,1042.9 L1150.5,1043.0 L1151.5,1043.2 L1152.5,1043.5 L1153.5,1043.6 L1154.5,1043.1 L1155.5,1042.4 L1156.5,1041.8 L1157.5,1041.1 L1158.5,1040.6 L1159.5,1040.1 L1160.5,1039.5 L1161.5,1039.0 L1162.5,1038.8 L1163.5,1038.7 L1164.5,1038.3 L1165.5,1037.5 L1166.5,1036.7 L1167.5,1036.2 L1168.5,1035.7 L1169.5,1035.6 L1170.5,1035.7 L1171.5,1035.7 L1172.5,1035.5 L1173.5,1035.4 L1174.5,1035.7 L1175.5,1036.2 L1176.5,1036.9 L1177.5,1037.7 L1178.5,1038.5 L1179.5,1039.1 L1180.5,1039.8 L1181.5,1040.3 L1182.5,1040.4 L1183.5,1040.3 L1184.5,1040.5 L1185.5,1041.0 L1186.5,1041.5 L1187.5,1041.6 L1188.5,1041.6 L1189.5,1041.4 L1190.5,1041.5 L1191.5,1042.0 L1192.5,1042.5 L1193.5,1042.5 L1194.5,1042.1 L1195.5,1042.0 L1196.5,1042.2 L1197.5,1042.4 L1198.5,1042.8 L1199.5,1043.1 L1200.5,1043.2 L1201.5,1043.1 L1202.5,1042.9 L1203.5,1042.9 L1204.5,1043.0 L1205.5,1042.9 L1206.5,1042.8 L1207.5,1043.0 L1208.5,1043.3 L1209.5,1043.5 L1210.5,1043.6 L1211.5,1043.6 L1212.5,1043.8 L1213.5,1043.9 L1214.5,1043.6 L1215.5,1043.1 L1216.5,1043.0 L1217.5,1043.4 L1218.5,1043.7 L1219.5,1043.6 L1220.5,1043.3 L1221.5,1043.1 L1222.5,1043.2 L1223.5,1043.2 L1224.5,1043.0 L1225.5,1042.7 L1226.5,1042.8 L1227.5,1043.4 L1228.5,1043.9 L1229.5,1044.0 L1230.5,1043.8 L1231.5,1043.5 L1232.5,1043.2 L1233.5,1042.9 L1234.5,1042.9 L1235.5,1043.0 L1236.5,1043.0 L1237.5,1043.0 L1238.5,1043.0 L1239.5,1042.9 L1240.5,1043.0 L1241.5,1043.1 L1242.5,1043.4 L1243.5,1043.8 L1244.5,1044.2 L1245.5,1044.5 L1246.5,1044.8 L1247.5,1044.8 L1248.5,1044.6 L1249.5,1044.2 L1250.5,1044.1 L1251.5,1044.0 L1252.5,1043.8 L1253.5,1043.8 L1254.5,1044.1 L1255.5,1044.3 L1256.5,1044.3 L1257.5,1044.2 L1258.5,1044.3 L1259.5,1044.6 L1260.5,1044.9 L1261.5,1044.9 L1262.5,1044.7 L1263.5,1044.6 L1264.5,1044.4 L1265.5,1043.9 L1266.5,1043.3 L1267.5,1042.9 L1268.5,1043.0 L1269.5,1043.3 L1270.5,1043.5 L1271.5,1043.4 L1272.5,1042.9 L1273.5,1042.5 L1274.5,1042.8 L1275.5,1043.3 L1276.5,1043.7 L1277.5,1043.7 L1278.5,1043.4 L1279.5,1043.1 L1280.5,1043.0 L1281.5,1043.0 L1282.5,1043.2 L1283.5,1043.8 L1284.5,1044.4 L1285.5,1044.4 L1286.5,1043.7 L1287.5,1042.9 L1288.5,1042.5 L1289.5,1042.6 L1290.5,1043.1 L1291.5,1043.7 L1292.5,1044.2 L1293.5,1044.4 L1294.5,1044.2 L1295.5,1043.5 L1296.5,1043.1 L1297.5,1043.1 L1298.5,1043.2 L1299.5,1043.2 L1300.5,1043.3 L1301.5,1043.9 L1302.5,1044.3 L1303.5,1044.2 L1304.5,1043.9 L1305.5,1043.6 L1306.5,1043.3 L1307.5,1043.2 L1308.5,1043.6 L1309.5,1044.1 L1310.5,1044.2 L1311.5,1044.0 L1312.5,1043.7 L1313.5,1043.8 L1314.5,1044.2 L1315.5,1044.8 L1316.5,1045.1 L1317.5,1045.2 L1318.5,1045.4 L1319.5,1045.3 L1320.5,1044.9 L1321.5,1044.3 L1322.5,1043.8 L1323.5,1044.0 L1324.5,1044.5 L1325.5,1044.5 L1326.5,1044.1 L1327.5,1043.7 L1328.5,1043.8 L1329.5,1044.2 L1330.5,1044.4 L1331.5,1044.4 L1332.5,1044.2 L1333.5,1044.2 L1334.5,1044.2 L1335.5,1044.3 L1336.5,1044.4 L1337.5,1044.4 L1338.5,1044.0 L1339.5,1043.3 L1340.5,1043.0 L1341.5,1043.1 L1342.5,1043.3 L1343.5,1043.4 L1344.5,1043.6 L1345.5,1043.8 L1346.5,1043.9 L1347.5,1044.0 L1348.5,1044.0 L1349.5,1043.9 L1350.5,1043.6 L1351.5,1043.7 L1352.5,1044.1 L1353.5,1044.6 L1354.5,1044.9 L1355.5,1044.9 L1356.5,1044.4 L1357.5,1043.6 L1358.5,1042.8 L1359.5,1042.2 L1360.5,1042.0 L1361.5,1042.3 L1362.5,1042.8 L1363.5,1043.3 L1364.5,1043.5 L1365.5,1043.4 L1366.5,1043.4 L1367.5,1043.5 L1368.5,1043.4 L1369.5,1043.2 L1370.5,1043.0 L1371.5,1042.8 L1372.5,1042.4 L1373.5,1042.1 L1374.5,1042.2 L1375.5,1042.4 L1376.5,1042.5 L1377.5,1042.6 L1378.5,1042.5 L1379.5,1042.1 L1380.5,1041.7 L1381.5,1041.8 L1382.5,1042.0 L1383.5,1042.0 L1384.5,1041.7 L1385.5,1041.2 L1386.5,1040.6 L1387.5,1040.0 L1388.5,1039.1 L1389.5,1037.9 L1390.5,1036.7 L1391.5,1035.7 L1392.5,1034.5 L1393.5,1032.5 L1394.5,1030.0 L1395.5,1027.6 L1396.5,1025.3 L1397.5,1022.2 L1398.5,1018.3 L1399.5,1014.0 L1400.5,1010.5 L1401.5,1008.4 L1402.5,1008.0 L1403.5,1009.1 L1404.5,1011.3 L1405.5,1014.4 L1406.5,1017.9 L1407.5,1021.2 L1408.5,1024.1 L1409.5,1026.8 L1410.5,1029.2 L1411.5,1031.5 L1412.5,1033.8 L1413.5,1035.9 L1414.5,1037.7 L1415.5,1039.0 L1416.5,1039.7 L1417.5,1039.8 L1418.5,1040.1 L1419.5,1040.8 L1420.5,1041.6 L1421.5,1042.1 L1422.5,1042.5 L1423.5,1043.1 L1424.5,1043.3 L1425.5,1043.1 L1426.5,1042.7 L1427.5,1042.4 L1428.5,1042.4 L1429.5,1042.6 L1430.5,1043.0 L1431.5,1043.4 L1432.5,1043.7 L1433.5,1044.0 L1434.5,1044.2 L1435.5,1044.0 L1436.5,1043.7 L1437.5,1043.2 L1438.5,1043.1 L1439.5,1043.3 L1440.5,1043.4 L1441.5,1043.5 L1442.5,1043.6 L1443.5,1043.7 L1444.5,1043.9 L1445.5,1044.3 L1446.5,1044.7 L1447.5,1044.6 L1448.5,1044.5 L1449.5,1044.6 L1450.5,1044.7 L1451.5,1044.8 L1452.5,1044.7 L1453.5,1044.4 L1454.5,1044.0 L1455.5,1043.6 L1456.5,1043.5 L1457.5,1043.3 L1458.5,1043.1 L1459.5,1043.1 L1460.5,1043.3 L1461.5,1043.7 L1462.5,1044.0 L1463.5,1044.1 L1464.5,1044.2 L1465.5,1044.4 L1466.5,1044.6 L1467.5,1044.8 L1468.5,1044.8 L1469.5,1044.6 L1470.5,1044.3 L1471.5,1044.1 L1472.5,1043.7 L1473.5,1043.4 L1474.5,1043.6 L1475.5,1044.3 L1476.5,1044.8 L1477.5,1044.8 L1478.5,1044.3 L1479.5,1043.7 L1480.5,1043.4 L1481.5,1043.9 L1482.5,1044.6 L1483.5,1044.6 L1484.5,1043.9 L1485.5,1043.4 L1486.5,1043.3 L1487.5,1043.4 L1488.5,1043.5 L1489.5,1043.3 L1490.5,1042.9 L1491.5,1042.9 L1492.5,1043.1 L1493.5,1043.4 L1494.5,1043.4 L1495.5,1043.1 L1496.5,1042.8 L1497.5,1043.0 L1498.5,1043.6 L1499.5,1043.9 L1500.5,1043.8 L1501.5,1043.4 L1502.5,1043.2 L1503.5,1043.3 L1504.5,1043.5 L1505.5,1044.0 L1506.5,1044.3 L1507.5,1044.0 L1508.5,1043.5 L1509.5,1043.4 L1510.5,1044.0 L1511.5,1044.4 L1512.5,1044.2 L1513.5,1043.9 L1514.5,1043.8 L1515.5,1043.9 L1516.5,1043.7 L1517.5,1043.4 L1518.5,1043.2 L1519.5,1043.0 L1520.5,1043.2 L1521.5,1043.7 L1522.5,1044.0 L1523.5,1043.9 L1524.5,1043.6 L1525.5,1043.4 L1526.5,1043.4 L1527.5,1043.7 L1528.5,1044.3 L1529.5,1044.8 L1530.5,1045.2 L1531.5,1045.5 L1532.5,1045.6 L1533.5,1045.2 L1534.5,1044.5 L1535.5,1043.9 L1536.5,1043.5 L1537.5,1043.3 L1538.5,1043.2 L1539.5,1043.2 L1540.5,1043.1 L1541.5,1042.8 L1542.5,1042.3 L1543.5,1042.1 L1544.5,1042.4 L1545.5,1042.7 L1546.5,1042.9 L1547.5,1042.7 L1548.5,1042.1 L1549.5,1041.6 L1550.5,1041.3 L1551.5,1041.0 L1552.5,1040.5 L1553.5,1039.8 L1554.5,1039.0 L1555.5,1038.3 L1556.5,1037.7 L1557.5,1037.6 L1558.5,1037.7 L1559.5,1037.3 L1560.5,1036.0 L1561.5,1034.7 L1562.5,1033.9 L1563.5,1033.4 L1564.5,1032.6 L1565.5,1031.8 L1566.5,1031.7 L1567.5,1032.0 L1568.5,1032.8 L1569.5,1034.1 L1570.5,1035.8 L1571.5,1037.0 L1572.5,1037.6 L1573.5,1037.8 L1574.5,1038.0 L1575.5,1038.5 L1576.5,1039.4 L1577.5,1040.1 L1578.5,1040.7 L1579.5,1041.3 L1580.5,1041.6 L1581.5,1041.7 L1582.5,1042.1 L1583.5,1042.5 L1584.5,1042.5 L1585.5,1042.3 L1586.5,1042.5 L1587.5,1042.6 L1588.5,1042.2 L1589.5,1042.0 L1590.5,1042.2 L1591.5,1042.4 L1592.5,1042.2 L1593.5,1041.8 L1594.5,1042.0 L1595.5,1042.7 L1596.5,1043.7 L1597.5,1044.3 L1598.5,1044.4 L1599.5,1044.4 L1600.5,1044.1 L1601.5,1043.7 L1602.5,1043.2 L1603.5,1043.0 L1604.5,1042.8 L1605.5,1042.9 L1606.5,1043.2 L1607.5,1043.5 L1608.5,1043.8 L1609.5,1043.7 L1610.5,1043.3 L1611.5,1043.3 L1612.5,1043.6 L1613.5,1044.3 L1614.5,1044.6 L1615.5,1044.5 L1616.5,1044.3 L1617.5,1044.3 L1618.5,1044.4 L1619.5,1044.4 L1620.5,1044.3 L1621.5,1044.3 L1622.5,1044.3 L1623.5,1044.6 L1624.5,1045.0 L1625.5,1044.9 L1626.5,1044.2 L1627.5,1043.5 L1628.5,1043.4 L1629.5,1043.7 L1630.5,1043.9 L1631.5,1043.9 L1632.5,1043.7 L1633.5,1043.7 L1634.5,1043.6 L1635.5,1043.6 L1636.5,1043.7 L1637.5,1043.7 L1638.5,1043.5 L1639.5,1043.1 L1640.5,1042.6 L1641.5,1042.1 L1642.5,1042.1 L1643.5,1042.4 L1644.5,1042.8 L1645.5,1043.0 L1646.5,1043.1 L1647.5,1043.2 L1648.5,1043.3 L1649.5,1043.4 L1650.5,1043.4 L1651.5,1043.5 L1652.5,1043.5 L1653.5,1043.5 L1654.5,1043.4 L1655.5,1043.4 L1656.5,1043.3 L1657.5,1043.4 L1658.5,1043.4 L1659.5,1043.4 L1660.5,1043.5 L1661.5,1043.7 L1662.5,1044.0 L1663.5,1044.4 L1664.5,1044.5 L1665.5,1044.1 L1666.5,1043.3 L1667.5,1043.0 L1668.5,1043.3 L1669.5,1043.3 L1670.5,1043.2 L1671.5,1043.5 L1672.5,1044.2 L1673.5,1044.4 L1674.5,1044.2 L1675.5,1044.2 L1676.5,1044.8 L1677.5,1045.3 L1678.5,1045.2 L1679.5,1044.6 L1680.5,1044.1 L1681.5,1043.8 L1682.5,1043.7 L1683.5,1043.8 L1684.5,1044.4 L1685.5,1044.9 L1686.5,1044.6 L1687.5,1043.9 L1688.5,1043.3 L1689.5,1043.1 L1690.5,1043.2 L1691.5,1043.7 L1692.5,1043.9 L1693.5,1043.9 L1694.5,1043.7 L1695.5,1043.4 L1696.5,1042.9 L1697.5,1042.7 L1698.5,1042.9 L1699.5,1043.2 L1700.5,1043.3 L1701.5,1043.6 L1702.5,1044.2 L1703.5,1044.4 L1704.5,1044.1 L1705.5,1043.6 L1706.5,1043.8 L1707.5,1044.1 L1708.5,1043.8 L1709.5,1043.2 L1710.5,1043.2 L1711.5,1043.6 L1712.5,1043.7 L1713.5,1043.4 L1714.5,1043.0 L1715.5,1043.2 L1716.5,1043.8 L1717.5,1044.1 L1718.5,1044.0 L1719.5,1043.9 L1720.5,1044.1 L1721.5,1044.5 L1722.5,1044.7 L1723.5,1044.6 L1724.5,1044.5 L1725.5,1044.4 L1726.5,1044.0 L1727.5,1043.7 L1728.5,1043.4 L1729.5,1043.1 L1730.5,1042.8 L1731.5,1042.3 L1732.5,1041.8 L1733.5,1041.6 L1734.5,1041.3 L1735.5,1040.5 L1736.5,1039.5 L1737.5,1038.7 L1738.5,1038.1 L1739.5,1037.3 L1740.5,1036.0 L1741.5,1034.5 L1742.5,1032.9 L1743.5,1031.8 L1744.5,1031.2 L1745.5,1031.3 L1746.5,1031.9 L1747.5,1032.8 L1748.5,1033.6 L1749.5,1033.5 L1750.5,1033.0 L1751.5,1032.4 L1752.5,1031.4 L1753.5,1029.7 L1754.5,1027.7 L1755.5,1025.4 L1756.5,1022.8 L1757.5,1019.4 L1758.5,1014.7 L1759.5,1008.6 L1760.5,1001.3 L1761.5,993.0 L1762.5,983.6 L1763.5,972.9 L1764.5,961.2 L1765.5,949.8 L1766.5,939.7 L1767.5,932.3 L1768.5,929.1 L1769.5,930.9 L1770.5,937.8 L1771.5,948.3 L1772.5,960.4 L1773.5,972.3 L1774.5,983.0 L1775.5,992.3 L1776.5,1000.5 L1777.5,1007.7 L1778.5,1013.9 L1779.5,1018.8 L1780.5,1022.4 L1781.5,1025.2 L1782.5,1027.8 L1783.5,1030.2 L1784.5,1032.3 L1785.5,1034.1 L1786.5,1035.6 L1787.5,1036.6 L1788.5,1037.4 L1789.5,1038.0 L1790.5,1038.6 L1791.5,1039.2 L1792.5,1039.7 L1793.5,1040.3 L1794.5,1040.8 L1795.5,1041.1 L1796.5,1041.1 L1797.5,1040.6 L1798.5,1040.1 L1799.5,1040.4 L1800.5,1041.3 L1801.5,1042.4 L1802.5,1043.2 L1803.5,1043.6 L1804.5,1043.6 L1805.5,1043.2 L1806.5,1042.7 L1807.5,1042.4 L1808.5,1042.3 L1809.5,1042.1 L1810.5,1041.9 L1811.5,1042.1 L1812.5,1042.7 L1813.5,1043.2 L1814.5,1043.2 L1815.5,1043.0 L1816.5,1042.9 L1817.5,1043.0 L1818.5,1043.2 L1819.5,1043.3 L1820.5,1043.5 L1821.5,1043.8 L1822.5,1044.1 L1823.5,1044.2 L1824.5,1044.2 L1825.5,1044.2 L1826.5,1044.2 L1827.5,1044.0 L1828.5,1043.9 L1829.5,1043.7 L1830.5,1043.7 L1831.5,1043.8 L1832.5,1043.6 L1833.5,1043.2 L1834.5,1043.0 L1835.5,1043.4 L1836.5,1044.1 L1837.5,1044.7 L1838.5,1045.0 L1839.5,1045.0 L1840.5,1044.9 L1841.5,1044.7 L1842.5,1044.5 L1843.5,1044.1 L1844.5,1043.6 L1845.5,1043.2 L1846.5,1043.2 L1847.5,1043.3 L1848.5,1043.4 L1849.5,1043.5 L1850.5,1043.6 L1851.5,1043.9 L1852.5,1044.3 L1853.5,1044.5 L1854.5,1044.4 L1855.5,1044.1 L1856.5,1044.0 L1857.5,1043.8 L1858.5,1043.4 L1859.5,1043.0 L1860.5,1043.0 L1861.5,1043.2 L1862.5,1043.3 L1863.5,1043.4 L1864.5,1043.8 L1865.5,1044.2 L1866.5,1044.2 L1867.5,1044.1 L1868.5,1044.1 L1869.5,1044.2 L1870.5,1044.3 L1871.5,1044.3 L1872.5,1044.1 L1873.5,1044.1 L1874.5,1043.9 L1875.5,1043.7 L1876.5,1043.6 L1877.5,1043.6 L1878.5,1043.4 L1879.5,1043.0 L1880.5,1042.5 L1881.5,1041.9 L1882.5,1041.5 L1883.5,1041.3 L1884.5,1041.1 L1885.5,1040.9 L1886.5,1040.6 L1887.5,1040.4 L1888.5,1040.2 L1889.5,1039.7 L1890.5,1038.9 L1891.5,1038.5 L1892.5,1038.3 L1893.5,1038.3 L1894.5,1038.4 L1895.5,1039.0 L1896.5,1039.7 L1897.5,1040.0 L1898.5,1039.9 L1899.5,1040.1 L1900.5,1040.7 L1901.5,1041.3 L1902.5,1041.8 L1903.5,1042.6 L1904.5,1043.4 L1905.5,1043.8 L1906.5,1043.8 L1907.5,1043.3 L1908.5,1042.5 L1909.5,1042.1 L1910.5,1042.2 L1911.5,1042.4 L1912.5,1042.5 L1913.5,1042.5 L1914.5,1042.3 L1915.5,1042.0 L1916.5,1042.2 L1917.5,1042.7 L1918.5,1043.3 L1919.5,1043.5 L1920.5,1043.1 L1921.5,1042.7 L1922.5,1042.9 L1923.5,1043.4 L1924.5,1043.7 L1925.5,1043.5 L1926.5,1043.3 L1927.5,1043.3 L1928.5,1043.6 L1929.5,1043.8 L1930.5,1043.8 L1931.5,1043.9 L1932.5,1043.9 L1933.5,1044.0 L1934.5,1044.2 L1935.5,1044.4 L1936.5,1044.3 L1937.5,1044.0 L1938.5,1043.8 L1939.5,1043.9 L1940.5,1044.0 L1941.5,1043.8 L1942.5,1043.4 L1943.5,1043.1 L1944.5,1043.0 L1945.5,1043.2 L1946.5,1043.7 L1947.5,1044.0 L1948.5,1044.0 L1949.5,1044.0 L1950.5,1044.3 L1951.5,1044.7 L1952.5,1044.7 L1953.5,1044.6 L1954.5,1044.6 L1955.5,1044.9 L1956.5,1045.2 L1957.5,1045.2 L1958.5,1044.8 L1959.5,1044.3 L1960.5,1044.1 L1961.5,1044.1 L1962.5,1044.1 L1963.5,1043.9 L1964.5,1043.6 L1965.5,1043.5 L1966.5,1043.8 L1967.5,1044.5 L1968.5,1044.8 L1969.5,1044.6 L1970.5,1044.4 L1971.5,1044.0 L1972.5,1043.6 L1973.5,1043.4 L1974.5,1043.4 L1975.5,1043.4 L1976.5,1043.4 L1977.5,1043.4 L1978.5,1043.3 L1979.5,1043.1 L1980.5,1042.9 L1981.5,1042.9 L1982.5,1042.8 L1983.5,1042.7 L1984.5,1042.9 L1985.5,1043.2 L1986.5,1043.3 L1987.5,1043.3"/>
<path stroke="#00ff00" d="M149.5,756.1 L150.5,755.7 L151.5,755.8 L152.5,756.4 L153.5,756.9 L154.5,757.0 L155.5,756.8 L156.5,756.4 L157.5,756.2 L158.5,756.4 L159.5,756.3 L160.5,755.7 L161.5,755.4 L162.5,755.5 L163.5,755.6 L164.5,755.8 L165.5,755.9 L166.5,755.9 L167.5,755.7 L168.5,755.7 L169.5,755.7 L170.5,755.7 L171.5,756.0 L172.5,756.3 L173.5,755.9 L174.5,755.2 L175.5,754.9 L176.5,755.0 L177.5,755.2 L178.5,755.6 L179.5,756.0 L180.5,756.2 L181.5,756.1 L182.5,756.1 L183.5,756.1 L184.5,755.8 L185.5,755.5 L186.5,755.3 L187.5,755.3 L188.5,755.4 L189.5,755.4 L190.5,755.3 L191.5,755.6 L192.5,755.9 L193.5,755.7 L194.5,755.6 L195.5,755.9 L196.5,756.4 L197.5,756.7 L198.5,756.9 L199.5,756.6 L200.5,756.0 L201.5,755.6 L202.5,755.8 L203.5,756.4 L204.5,756.8 L205.5,756.6 L206.5,756.0 L207.5,755.6 L208.5,755.8 L209.5,756.4 L210.5,757.0 L211.5,757.1 L212.5,756.6 L213.5,756.0 L214.5,756.0 L215.5,756.4 L216.5,756.6 L217.5,756.4 L218.5,755.8 L219.5,755.2 L220.5,754.9 L221.5,755.1 L222.5,755.7 L223.5,756.2 L224.5,756.5 L225.5,756.5 L226.5,756.5 L227.5,756.5 L228.5,756.5 L229.5,756.6 L230.5,756.6 L231.5,756.5 L232.5,756.3 L233.5,756.2 L234.5,756.2 L235.5,756.4 L236.5,756.6 L237.5,756.7 L238.5,756.5 L239.5,756.5 L240.5,756.7 L241.5,756.7 L242.5,756.3 L243.5,755.7 L244.5,755.6 L245.5,756.0 L246.5,756.2 L247.5,756.2 L248.5,756.4 L249.5,756.8 L250.5,756.8 L251.5,756.4 L252.5,756.1 L253.5,755.6 L254.5,754.9 L255.5,754.7 L256.5,754.9 L257.5,755.1 L258.5,754.8 L259.5,754.7 L260.5,755.1 L261.5,755.9 L262.5,756.6 L263.5,756.6 L264.5,756.1 L265.5,755.6 L266.5,755.3 L267.5,755.5 L268.5,756.0 L269.5,756.1 L270.5,756.0 L271.5,756.1 L272.5,756.5 L273.5,756.7 L274.5,756.5 L275.5,756.2 L276.5,755.8 L277.5,755.7 L278.5,755.8 L279.5,756.3 L280.5,757.0 L281.5,757.6 L282.5,757.6 L283.5,757.1 L284.5,756.6 L285.5,756.5 L286.5,756.6 L287.5,756.7 L288.5,756.9 L289.5,756.7 L290.5,756.1 L291.5,756.1 L292.5,756.4 L293.5,756.7 L294.5,756.9 L295.5,756.8 L296.5,756.4 L297.5,756.0 L298.5,755.6 L299.5,755.5 L300.5,755.7 L301.5,756.2 L302.5,756.7 L303.5,756.8 L304.5,756.8 L305.5,756.9 L306.5,757.0 L307.5,756.7 L308.5,756.4 L309.5,756.2 L310.5,756.0 L311.5,756.1 L312.5,756.3 L313.5,756.3 L314.5,756.3 L315.5,756.6 L316.5,757.2 L317.5,757.8 L318.5,757.7 L319.5,756.8 L320.5,755.9 L321.5,755.5 L322.5,755.7 L323.5,756.3 L324.5,756.9 L325.5,757.2 L326.5,757.0 L327.5,756.5 L328.5,756.1 L329.5,755.9 L330.5,755.7 L331.5,755.5 L332.5,755.5 L333.5,755.9 L334.5,755.9 L335.5,755.4 L336.5,755.2 L337.5,755.7 L338.5,756.1 L339.5,755.7 L340.5,755.3 L341.5,755.2 L342.5,755.6 L343.5,756.1 L344.5,756.1 L345.5,756.0 L346.5,756.3 L347.5,757.0 L348.5,757.4 L349.5,756.9 L350.5,756.1 L351.5,755.5 L352.5,755.5 L353.5,756.1 L354.5,756.9 L355.5,757.4 L356.5,757.1 L357.5,756.4 L358.5,755.9 L359.5,755.6 L360.5,755.7 L361.5,756.0 L362.5,756.4 L363.5,756.7 L364.5,757.2 L365.5,757.3 L366.5,756.8 L367.5,756.2 L368.5,755.8 L369.5,755.8 L370.5,755.9 L371.5,755.6 L372.5,755.0 L373.5,754.7 L374.5,754.6 L375.5,754.6 L376.5,754.7 L377.5,755.1 L378.5,755.8 L379.5,756.5 L380.5,756.8 L381.5,756.5 L382.5,756.2 L383.5,756.1 L384.5,756.5 L385.5,757.1 L386.5,757.3 L387.5,756.9 L388.5,756.8 L389.5,756.8 L390.5,757.0 L391.5,757.6 L392.5,758.3 L393.5,758.2 L394.5,757.2 L395.5,755.9 L396.5,754.8 L397.5,754.4 L398.5,754.7 L399.5,755.0 L400.5,754.9 L401.5,754.8 L402.5,754.9 L403.5,755.0 L404.5,755.0 L405.5,755.3 L406.5,756.1 L407.5,756.8 L408.5,757.0 L409.5,756.6 L410.5,756.2 L411.5,756.1 L412.5,756.0 L413.5,755.6 L414.5,755.5 L415.5,755.6 L416.5,755.6 L417.5,755.6 L418.5,755.8 L419.5,756.0 L420.5,756.4 L421.5,756.8 L422.5,757.0 L423.5,757.0 L424.5,757.1 L425.5,756.8 L426.5,755.8 L427.5,754.8 L428.5,754.9 L429.5,755.7 L430.5,756.6 L431.5,757.1 L432.5,757.0 L433.5,756.7 L434.5,756.5 L435.5,756.4 L436.5,756.3 L437.5,756.3 L438.5,756.6 L439.5,756.7 L440.5,756.5 L441.5,755.9 L442.5,755.5 L443.5,755.7 L444.5,756.1 L445.5,756.3 L446.5,756.3 L447.5,756.0 L448.5,755.4 L449.5,754.8 L450.5,754.7 L451.5,754.9 L452.5,755.3 L453.5,755.6 L454.5,755.9 L455.5,756.1 L456.5,756.5 L457.5,756.8 L458.5,756.9 L459.5,757.0 L460.5,756.9 L461.5,756.6 L462.5,755.7 L463.5,755.2 L464.5,755.3 L465.5,755.5 L466.5,755.5 L467.5,755.6 L468.5,756.2 L469.5,756.7 L470.5,756.6 L471.5,756.2 L472.5,755.9 L473.5,756.1 L474.5,756.6 L475.5,756.6 L476.5,756.1 L477.5,755.9 L478.5,755.9 L479.5,755.9 L480.5,756.0 L481.5,756.4 L482.5,756.7 L483.5,756.8 L484.5,756.9 L485.5,757.0 L486.5,757.1 L487.5,756.7 L488.5,756.0 L489.5,755.7 L490.5,755.9 L491.5,756.1 L492.5,756.0 L493.5,756.0 L494.5,756.1 L495.5,756.5 L496.5,757.2 L497.5,757.8 L498.5,757.6 L499.5,756.8 L500.5,756.2 L501.5,756.0 L502.5,756.2 L503.5,756.7 L504.5,757.1 L505.5,757.2 L506.5,757.0 L507.5,756.7 L508.5,756.5 L509.5,756.4 L510.5,756.3 L511.5,756.1 L512.5,756.1 L513.5,756.4 L514.5,756.9 L515.5,757.2 L516.5,757.3 L517.5,757.1 L518.5,756.7 L519.5,756.5 L520.5,756.5 L521.5,756.7 L522.5,757.1 L523.5,757.3 L524.5,757.3 L525.5,757.0 L526.5,756.4 L527.5,755.7 L528.5,755.2 L529.5,755.1 L530.5,755.0 L531.5,755.1 L532.5,755.7 L533.5,756.6 L534.5,757.1 L535.5,757.2 L536.5,757.0 L537.5,756.6 L538.5,756.3 L539.5,756.2 L540.5,756.3 L541.5,756.4 L542.5,756.5 L543.5,756.4 L544.5,756.1 L545.5,755.7 L546.5,755.5 L547.5,755.6 L548.5,755.4 L549.5,755.0 L550.5,754.9 L551.5,755.2 L552.5,755.8 L553.5,756.6 L554.5,757.2 L555.5,757.7 L556.5,757.8 L557.5,757.4 L558.5,757.0 L559.5,757.1 L560.5,757.0 L561.5,756.8 L562.5,757.0 L563.5,757.5 L564.5,757.4 L565.5,756.7 L566.5,756.0 L567.5,756.0 L568.5,756.3 L569.5,756.6 L570.5,756.8 L571.5,757.0 L572.5,756.9 L573.5,756.2 L574.5,755.4 L575.5,754.7 L576.5,754.5 L577.5,754.6 L578.5,754.9 L579.5,755.2 L580.5,755.2 L581.5,754.8 L582.5,754.6 L583.5,755.0 L584.5,755.6 L585.5,755.9 L586.5,755.9 L587.5,755.9 L588.5,755.8 L589.5,755.9 L590.5,756.2 L591.5,756.8 L592.5,756.9 L593.5,756.4 L594.5,755.7 L595.5,755.4 L596.5,755.7 L597.5,756.3 L598.5,756.8 L599.5,756.5 L600.5,756.0 L601.5,755.7 L602.5,755.6 L603.5,755.6 L604.5,755.8 L605.5,756.0 L606.5,755.8 L607.5,755.1 L608.5,754.3 L609.5,754.2 L610.5,755.2 L611.5,756.7 L612.5,757.5 L613.5,757.2 L614.5,756.2 L615.5,755.5 L616.5,755.3 L617.5,755.2 L618.5,755.3 L619.5,755.7 L620.5,756.1 L621.5,756.4 L622.5,756.3 L623.5,756.1 L624.5,755.7 L625.5,755.3 L626.5,755.3 L627.5,755.5 L628.5,755.8 L629.5,755.7 L630.5,755.0 L631.5,754.3 L632.5,754.3 L633.5,755.0 L634.5,755.4 L635.5,755.1 L636.5,755.1 L637.5,755.8 L638.5,756.5 L639.5,756.3 L640.5,755.8 L641.5,755.3 L642.5,754.9 L643.5,754.8 L644.5,754.9 L645.5,754.9 L646.5,754.7 L647.5,754.4 L648.5,754.2 L649.5,754.2 L650.5,754.3 L651.5,754.2 L652.5,754.0 L653.5,753.8 L654.5,754.0 L655.5,754.4 L656.5,754.4 L657.5,753.8 L658.5,753.0 L659.5,752.5 L660.5,752.5 L661.5,753.1 L662.5,753.4 L663.5,752.9 L664.5,751.8 L665.5,750.6 L666.5,749.4 L667.5,748.5 L668.5,747.8 L669.5,746.5 L670.5,744.4 L671.5,742.1 L672.5,739.8 L673.5,737.2 L674.5,733.8 L675.5,729.7 L676.5,725.3 L677.5,720.3 L678.5,713.4 L679.5,704.2 L680.5,693.2 L681.5,680.5 L682.5,666.3 L683.5,651.4 L684.5,637.1 L685.5,625.6 L686.5,619.5 L687.5,620.1 L688.5,627.0 L689.5,638.0 L690.5,650.5 L691.5,662.5 L692.5,672.7 L693.5,680.8 L694.5,686.8 L695.5,690.6 L696.5,692.1 L697.5,690.8 L698.5,687.2 L699.5,681.9 L700.5,675.3 L701.5,667.2 L702.5,657.6 L703.5,647.7 L704.5,639.1 L705.5,633.1 L706.5,630.5 L707.5,631.4 L708.5,635.7 L709.5,642.7 L710.5,652.3 L711.5,663.8 L712.5,675.6 L713.5,686.7 L714.5,696.2 L715.5,704.0 L716.5,710.6 L717.5,716.6 L718.5,722.1 L719.5,727.1 L720.5,731.3 L721.5,734.4 L722.5,737.0 L723.5,739.4 L724.5,741.3 L725.5,742.7 L726.5,744.2 L727.5,745.7 L728.5,746.8 L729.5,747.5 L730.5,748.3 L731.5,749.6 L732.5,751.0 L733.5,751.9 L734.5,752.3 L735.5,752.5 L736.5,753.0 L737.5,753.6 L738.5,754.4 L739.5,754.9 L740.5,754.9 L741.5,754.2 L742.5,753.3 L743.5,752.8 L744.5,752.7 L745.5,752.7 L746.5,752.9 L747.5,753.3 L748.5,753.7 L749.5,754.1 L750.5,754.2 L751.5,754.0 L752.5,753.8 L753.5,753.8 L754.5,754.1 L755.5,754.6 L756.5,755.1 L757.5,755.0 L758.5,754.7 L759.5,754.6 L760.5,754.9 L761.5,755.2 L762.5,755.7 L763.5,756.3 L764.5,756.4 L765.5,756.1 L766.5,755.7 L767.5,755.6 L768.5,755.7 L769.5,756.0 L770.5,756.3 L771.5,756.3 L772.5,756.1 L773.5,756.0 L774.5,755.9 L775.5,755.7 L776.5,755.3 L777.5,755.1 L778.5,755.1 L779.5,755.2 L780.5,755.3 L781.5,755.4 L782.5,755.4 L783.5,755.5 L784.5,755.6 L785.5,755.6 L786.5,755.5 L787.5,755.4 L788.5,755.2 L789.5,754.7 L790.5,754.5 L791.5,754.5 L792.5,754.2 L793.5,753.7 L794.5,753.5 L795.5,753.8 L796.5,754.0 L797.5,754.0 L798.5,754.0 L799.5,754.1 L800.5,754.6 L801.5,755.3 L802.5,755.6 L803.5,755.4 L804.5,755.0 L805.5,754.6 L806.5,754.1 L807.5,753.8 L808.5,753.6 L809.5,753.4 L810.5,753.1 L811.5,753.1 L812.5,753.2 L813.5,753.2 L814.5,753.0 L815.5,752.6 L816.5,752.2 L817.5,751.9 L818.5,751.7 L819.5,751.3 L820.5,751.0 L821.5,750.8 L822.5,750.6 L823.5,750.3 L824.5,749.7 L825.5,748.9 L826.5,748.2 L827.5,747.1 L828.5,745.5 L829.5,743.6 L830.5,741.7 L831.5,739.8 L832.5,737.5 L833.5,734.2 L834.5,729.7 L835.5,724.0 L836.5,717.3 L837.5,709.5 L838.5,699.7 L839.5,687.2 L840.5,671.7 L841.5,652.9 L842.5,630.8 L843.5,606.5 L844.5,582.1 L845.5,560.1 L846.5,544.3 L847.5,538.4 L848.5,543.9 L849.5,559.4 L850.5,581.7 L851.5,606.7 L852.5,631.0 L853.5,652.3 L854.5,670.4 L855.5,685.8 L856.5,698.4 L857.5,708.5 L858.5,716.6 L859.5,723.3 L860.5,728.7 L861.5,733.0 L862.5,736.2 L863.5,738.9 L864.5,741.3 L865.5,743.6 L866.5,745.3 L867.5,746.3 L868.5,746.8 L869.5,747.3 L870.5,747.9 L871.5,748.6 L872.5,749.6 L873.5,750.6 L874.5,751.1 L875.5,751.5 L876.5,751.8 L877.5,752.1 L878.5,752.7 L879.5,753.5 L880.5,754.2 L881.5,754.7 L882.5,754.8 L883.5,754.4 L884.5,753.5 L885.5,753.0 L886.5,753.4 L887.5,754.4 L888.5,755.0 L889.5,754.9 L890.5,754.6 L891.5,754.3 L892.5,754.0 L893.5,754.0 L894.5,754.1 L895.5,754.2 L896.5,754.5 L897.5,754.8 L898.5,755.1 L899.5,754.8 L900.5,754.2 L901.5,754.4 L902.5,754.9 L903.5,755.2 L904.5,755.2 L905.5,755.6 L906.5,755.9 L907.5,756.0 L908.5,755.9 L909.5,755.6 L910.5,755.1 L911.5,754.5 L912.5,754.1 L913.5,754.4 L914.5,755.3 L915.5,756.1 L916.5,756.1 L917.5,755.9 L918.5,755.4 L919.5,754.8 L920.5,754.4 L921.5,754.5 L922.5,755.0 L923.5,755.6 L924.5,756.1 L925.5,756.1 L926.5,755.8 L927.5,755.7 L928.5,755.6 L929.5,755.4 L930.5,755.2 L931.5,755.1 L932.5,755.1 L933.5,755.3 L934.5,755.4 L935.5,755.4 L936.5,755.7 L937.5,756.2 L938.5,756.8 L939.5,757.1 L940.5,757.2 L941.5,757.2 L942.5,756.8 L943.5,755.7 L944.5,754.7 L945.5,754.6 L946.5,755.3 L947.5,756.2 L948.5,756.8 L949.5,757.1 L950.5,757.2 L951.5,756.8 L952.5,756.2 L953.5,755.7 L954.5,755.7 L955.5,755.9 L956.5,755.9 L957.5,755.8 L958.5,755.9 L959.5,756.1 L960.5,756.1 L961.5,755.8 L962.5,755.5 L963.5,755.9 L964.5,756.4 L965.5,756.2 L966.5,755.5 L967.5,755.2 L968.5,755.8 L969.5,756.9 L970.5,757.8 L971.5,757.8 L972.5,757.0 L973.5,756.2 L974.5,755.9 L975.5,756.0 L976.5,755.7 L977.5,755.3 L978.5,755.5 L979.5,756.1 L980.5,756.6 L981.5,756.9 L982.5,757.0 L983.5,756.5 L984.5,755.4 L985.5,754.4 L986.5,754.4 L987.5,755.3 L988.5,756.3 L989.5,756.4 L990.5,756.2 L991.5,756.3 L992.5,756.6 L993.5,756.7 L994.5,756.4 L995.5,756.1 L996.5,756.1 L997.5,756.3 L998.5,756.1 L999.5,755.6 L1000.5,755.2 L1001.5,754.9 L1002.5,754.8 L1003.5,755.0 L1004.5,755.5 L1005.5,755.6 L1006.5,755.4 L1007.5,755.2 L1008.5,755.3 L1009.5,755.8 L1010.5,756.8 L1011.5,757.7 L1012.5,757.4 L1013.5,756.4 L1014.5,755.7 L1015.5,755.5 L1016.5,755.3 L1017.5,755.2 L1018.5,755.2 L1019.5,755.0 L1020.5,754.8 L1021.5,755.2 L1022.5,756.1 L1023.5,756.7 L1024.5,756.8 L1025.5,756.4 L1026.5,756.1 L1027.5,756.1 L1028.5,756.3 L1029.5,756.4 L1030.5,756.3 L1031.5,756.3 L1032.5,756.3 L1033.5,756.5 L1034.5,756.4 L1035.5,756.3 L1036.5,756.4 L1037.5,757.0 L1038.5,757.3 L1039.5,757.1 L1040.5,756.5 L1041.5,756.2 L1042.5,756.1 L1043.5,756.1 L1044.5,756.1 L1045.5,756.2 L1046.5,755.9 L1047.5,755.4 L1048.5,755.1 L1049.5,755.2 L1050.5,755.3 L1051.5,755.1 L1052.5,755.1 L1053.5,755.7 L1054.5,756.1 L1055.5,756.0 L1056.5,755.8 L1057.5,755.8 L1058.5,755.8 L1059.5,755.7 L1060.5,755.8 L1061.5,756.2 L1062.5,756.6 L1063.5,756.7 L1064.5,756.5 L1065.5,756.3 L1066.5,756.2 L1067.5,756.0 L1068.5,756.0 L1069.5,756.7 L1070.5,757.2 L1071.5,756.6 L1072.5,755.5 L1073.5,755.1 L1074.5,755.2 L1075.5,755.1 L1076.5,754.9 L1077.5,755.0 L1078.5,755.5 L1079.5,756.0 L1080.5,756.0 L1081.5,755.9 L1082.5,756.1 L1083.5,756.5 L1084.5,756.4 L1085.5,756.1 L1086.5,755.9 L1087.5,756.3 L1088.5,756.7 L1089.5,756.5 L1090.5,756.2 L1091.5,756.3 L1092.5,756.5 L1093.5,756.3 L1094.5,756.0 L1095.5,755.9 L1096.5,756.0 L1097.5,755.9 L1098.5,755.9 L1099.5,756.4 L1100.5,757.2 L1101.5,757.6 L1102.5,757.1 L1103.5,755.9 L1104.5,754.7 L1105.5,754.2 L1106.5,754.4 L1107.5,754.9 L1108.5,755.6 L1109.5,756.4 L1110.5,756.9 L1111.5,757.1 L1112.5,756.8 L1113.5,756.2 L1114.5,755.5 L1115.5,755.2 L1116.5,755.3 L1117.5,755.7 L1118.5,755.9 L1119.5,755.4 L1120.5,754.7 L1121.5,754.3 L1122.5,754.5 L1123.5,755.4 L1124.5,756.4 L1125.5,756.8 L1126.5,756.4 L1127.5,755.9 L1128.5,755.2 L1129.5,754.7 L1130.5,754.8 L1131.5,755.5 L1132.5,756.1 L1133.5,756.2 L1134.5,755.9 L1135.5,755.5 L1136.5,755.2 L1137.5,755.2 L1138.5,755.2 L1139.5,755.0 L1140.5,754.8 L1141.5,754.9 L1142.5,755.2 L1143.5,755.6 L1144.5,756.0 L1145.5,756.3 L1146.5,756.3 L1147.5,756.0 L1148.5,755.3 L1149.5,754.6 L1150.5,753.9 L1151.5,753.5 L1152.5,753.4 L1153.5,753.7 L1154.5,754.3 L1155.5,754.7 L1156.5,754.7 L1157.5,754.4 L1158.5,753.9 L1159.5,753.1 L1160.5,752.4 L1161.5,751.6 L1162.5,751.0 L1163.5,750.5 L1164.5,749.5 L1165.5,748.4 L1166.5,748.0 L1167.5,748.1 L1168.5,748.1 L1169.5,747.9 L1170.5,747.6 L1171.5,747.3 L1172.5,747.1 L1173.5,747.4 L1174.5,748.0 L1175.5,748.5 L1176.5,748.6 L1177.5,748.9 L1178.5,749.8 L1179.5,750.6 L1180.5,751.0 L1181.5,751.1 L1182.5,751.3 L1183.5,751.6 L1184.5,751.9 L1185.5,752.1 L1186.5,752.5 L1187.5,753.1 L1188.5,753.6 L1189.5,753.9 L1190.5,754.3 L1191.5,754.8 L1192.5,754.9 L1193.5,754.9 L1194.5,755.1 L1195.5,755.7 L1196.5,756.2 L1197.5,756.3 L1198.5,756.2 L1199.5,756.2 L1200.5,756.0 L1201.5,755.7 L1202.5,755.6 L1203.5,755.8 L1204.5,755.7 L1205.5,755.3 L1206.5,755.0 L1207.5,755.0 L1208.5,755.4 L1209.5,756.1 L1210.5,756.7 L1211.5,756.9 L1212.5,757.2 L1213.5,757.6 L1214.5,757.7 L1215.5,757.5 L1216.5,757.2 L1217.5,756.8 L1218.5,756.5 L1219.5,756.1 L1220.5,755.6 L1221.5,755.5 L1222.5,756.0 L1223.5,756.7 L1224.5,756.8 L1225.5,756.4 L1226.5,756.2 L1227.5,756.3 L1228.5,756.2 L1229.5,756.0 L1230.5,755.8 L1231.5,755.6 L1232.5,755.5 L1233.5,755.7 L1234.5,755.9 L1235.5,756.1 L1236.5,756.3 L1237.5,756.3 L1238.5,755.9 L1239.5,755.6 L1240.5,755.3 L1241.5,755.2 L1242.5,755.3 L1243.5,755.5 L1244.5,755.6 L1245.5,755.8 L1246.5,756.1 L1247.5,756.4 L1248.5,756.5 L1249.5,756.6 L1250.5,756.8 L1251.5,756.7 L1252.5,756.2 L1253.5,755.8 L1254.5,755.5 L1255.5,755.6 L1256.5,755.9 L1257.5,755.9 L1258.5,755.7 L1259.5,755.7 L1260.5,756.4 L1261.5,757.2 L1262.5,757.1 L1263.5,756.0 L1264.5,754.9 L1265.5,754.8 L1266.5,755.3 L1267.5,755.8 L1268.5,756.0 L1269.5,756.1 L1270.5,756.4 L1271.5,757.0 L1272.5,757.4 L1273.5,757.0 L1274.5,756.4 L1275.5,756.1 L1276.5,756.2 L1277.5,756.6 L1278.5,756.6 L1279.5,756.0 L1280.5,755.4 L1281.5,755.3 L1282.5,755.4 L1283.5,755.4 L1284.5,755.3 L1285.5,755.4 L1286.5,755.6 L1287.5,755.7 L1288.5,755.8 L1289.5,755.9 L1290.5,755.9 L1291.5,755.8 L1292.5,755.5 L1293.5,755.3 L1294.5,755.3 L1295.5,755.3 L1296.5,755.4 L1297.5,755.4 L1298.5,755.3 L1299.5,755.3 L1300.5,755.2 L1301.5,755.1 L1302.5,755.3 L1303.5,755.5 L1304.5,755.4 L1305.5,755.2 L1306.5,755.2 L1307.5,755.7 L1308.5,756.2 L1309.5,756.4 L1310.5,756.8 L1311.5,757.0 L1312.5,756.7 L1313.5,756.3 L1314.5,755.9 L1315.5,755.4 L1316.5,755.2 L1317.5,755.0 L1318.5,755.0 L1319.5,755.4 L1320.5,756.1 L1321.5,756.8 L1322.5,756.9 L1323.5,756.6 L1324.5,756.6 L1325.5,757.3 L1326.5,757.9 L1327.5,757.9 L1328.5,757.3 L1329.5,756.3 L1330.5,755.2 L1331.5,754.7 L1332.5,754.9 L1333.5,755.2 L1334.5,755.4 L1335.5,755.6 L1336.5,755.8 L1337.5,755.8 L1338.5,755.7 L1339.5,755.8 L1340.5,755.9 L1341.5,755.8 L1342.5,755.4 L1343.5,755.1 L1344.5,755.0 L1345.5,755.3 L1346.5,755.5 L1347.5,755.6 L1348.5,755.6 L1349.5,755.8 L1350.5,756.3 L1351.5,757.1 L1352.5,757.7 L1353.5,757.3 L1354.5,756.2 L1355.5,755.4 L1356.5,755.3 L1357.5,755.4 L1358.5,755.6 L1359.5,755.7 L1360.5,755.9 L1361.5,756.3 L1362.5,756.8 L1363.5,756.9 L1364.5,756.7 L1365.5,756.5 L1366.5,756.1 L1367.5,755.5 L1368.5,755.1 L1369.5,754.9 L1370.5,754.7 L1371.5,754.5 L1372.5,754.2 L1373.5,754.0 L1374.5,754.2 L1375.5,754.7 L1376.5,754.9 L1377.5,754.5 L1378.5,753.9 L1379.5,753.3 L1380.5,752.9 L1381.5,752.8 L1382.5,753.3 L1383.5,754.0 L1384.5,754.1 L1385.5,753.3 L1386.5,752.1 L1387.5,751.2 L1388.5,750.7 L1389.5,750.1 L1390.5,749.0 L1391.5,747.7 L1392.5,745.8 L1393.5,743.0 L1394.5,739.7 L1395.5,735.9 L1396.5,732.1 L1397.5,728.4 L1398.5,724.8 L1399.5,721.7 L1400.5,719.9 L1401.5,720.0 L1402.5,721.9 L1403.5,725.0 L1404.5,728.5 L1405.5,731.9 L1406.5,735.1 L1407.5,738.1 L1408.5,741.0 L1409.5,743.8 L1410.5,746.4 L1411.5,748.3 L1412.5,749.4 L1413.5,750.3 L1414.5,751.0 L1415.5,751.6 L1416.5,752.1 L1417.5,752.6 L1418.5,753.3 L1419.5,754.0 L1420.5,754.5 L1421.5,754.8 L1422.5,754.7 L1423.5,754.4 L1424.5,754.4 L1425.5,754.4 L1426.5,754.4 L1427.5,754.5 L1428.5,754.8 L1429.5,755.2 L1430.5,755.7 L1431.5,756.1 L1432.5,756.1 L1433.5,756.0 L1434.5,755.9 L1435.5,756.0 L1436.5,756.2 L1437.5,756.2 L1438.5,756.0 L1439.5,755.9 L1440.5,755.8 L1441.5,755.5 L1442.5,755.3 L1443.5,755.2 L1444.5,755.3 L1445.5,755.4 L1446.5,755.6 L1447.5,755.8 L1448.5,755.8 L1449.5,756.0 L1450.5,756.4 L1451.5,756.4 L1452.5,756.0 L1453.5,755.4 L1454.5,755.3 L1455.5,755.7 L1456.5,756.1 L1457.5,756.2 L1458.5,756.1 L1459.5,756.2 L1460.5,756.2 L1461.5,756.3 L1462.5,756.2 L1463.5,755.8 L1464.5,755.5 L1465.5,755.6 L1466.5,756.2 L1467.5,756.8 L1468.5,756.7 L1469.5,756.1 L1470.5,755.8 L1471.5,755.7 L1472.5,755.7 L1473.5,755.9 L1474.5,756.0 L1475.5,756.0 L1476.5,756.0 L1477.5,756.0 L1478.5,756.1 L1479.5,756.2 L1480.5,756.1 L1481.5,756.0 L1482.5,755.8 L1483.5,755.5 L1484.5,755.2 L1485.5,755.0 L1486.5,754.7 L1487.5,754.2 L1488.5,754.4 L1489.5,755.4 L1490.5,756.5 L1491.5,757.1 L1492.5,757.2 L1493.5,757.0 L1494.5,756.8 L1495.5,756.7 L1496.5,756.8 L1497.5,756.8 L1498.5,756.2 L1499.5,755.4 L1500.5,755.0 L1501.5,755.0 L1502.5,754.9 L1503.5,755.1 L1504.5,755.7 L1505.5,756.2 L1506.5,756.2 L1507.5,755.9 L1508.5,755.7 L1509.5,755.2 L1510.5,754.4 L1511.5,754.0 L1512.5,754.2 L1513.5,754.9 L1514.5,755.6 L1515.5,755.9 L1516.5,755.7 L1517.5,755.5 L1518.5,755.5 L1519.5,755.5 L1520.5,755.4 L1521.5,755.3 L1522.5,755.2 L1523.5,755.0 L1524.5,754.6 L1525.5,754.3 L1526.5,754.3 L1527.5,754.6 L1528.5,755.1 L1529.5,755.5 L1530.5,755.7 L1531.5,755.9 L1532.5,756.3 L1533.5,756.6 L1534.5,756.1 L1535.5,755.3 L1536.5,754.9 L1537.5,755.1 L1538.5,755.0 L1539.5,754.5 L1540.5,754.3 L1541.5,754.7 L1542.5,755.1 L1543.5,754.9 L1544.5,754.3 L1545.5,753.8 L1546.5,753.5 L1547.5,753.2 L1548.5,752.8 L1549.5,752.7 L1550.5,752.8 L1551.5,752.8 L1552.5,752.8 L1553.5,752.7 L1554.5,752.1 L1555.5,750.7 L1556.5,749.3 L1557.5,748.4 L1558.5,747.9 L1559.5,747.6 L1560.5,747.3 L1561.5,746.8 L1562.5,746.4 L1563.5,746.3 L1564.5,746.5 L1565.5,746.6 L1566.5,746.9 L1567.5,747.4 L1568.5,748.0 L1569.5,748.4 L1570.5,748.4 L1571.5,748.5 L1572.5,749.0 L1573.5,750.3 L1574.5,751.7 L1575.5,752.7 L1576.5,753.1 L1577.5,753.0 L1578.5,753.2 L1579.5,753.9 L1580.5,754.3 L1581.5,754.0 L1582.5,753.5 L1583.5,753.6 L1584.5,754.2 L1585.5,754.6 L1586.5,754.4 L1587.5,754.4 L1588.5,754.7 L1589.5,755.2 L1590.5,755.5 L1591.5,755.6 L1592.5,755.4 L1593.5,755.2 L1594.5,755.3 L1595.5,755.4 L1596.5,755.6 L1597.5,755.8 L1598.5,755.8 L1599.5,755.7 L1600.5,755.6 L1601.5,755.7 L1602.5,755.9 L1603.5,755.8 L1604.5,755.7 L1605.5,755.9 L1606.5,756.0 L1607.5,755.7 L1608.5,755.7 L1609.5,756.0 L1610.5,756.2 L1611.5,756.4 L1612.5,756.5 L1613.5,756.5 L1614.5,756.6 L1615.5,756.6 L1616.5,756.3 L1617.5,755.8 L1618.5,755.4 L1619.5,755.3 L1620.5,755.4 L1621.5,755.4 L1622.5,755.3 L1623.5,755.4 L1624.5,755.7 L1625.5,756.1 L1626.5,756.1 L1627.5,755.3 L1628.5,754.6 L1629.5,754.6 L1630.5,755.2 L1631.5,755.6 L1632.5,755.5 L1633.5,755.2 L1634.5,755.0 L1635.5,755.3 L1636.5,755.7 L1637.5,755.9 L1638.5,755.7 L1639.5,755.5 L1640.5,755.3 L1641.5,755.4 L1642.5,755.5 L1643.5,755.6 L1644.5,755.4 L1645.5,755.3 L1646.5,755.7 L1647.5,756.4 L1648.5,756.7 L1649.5,756.1 L1650.5,755.1 L1651.5,754.7 L1652.5,755.0 L1653.5,755.8 L1654.5,756.5 L1655.5,756.8 L1656.5,756.7 L1657.5,756.5 L1658.5,756.4 L1659.5,756.3 L1660.5,756.2 L1661.5,755.8 L1662.5,755.5 L1663.5,755.4 L1664.5,755.5 L1665.5,755.5 L1666.5,755.3 L1667.5,754.8 L1668.5,754.3 L1669.5,754.5 L1670.5,755.4 L1671.5,756.3 L1672.5,756.5 L1673.5,756.2 L1674.5,755.8 L1675.5,755.4 L1676.5,755.0 L1677.5,754.8 L1678.5,755.3 L1679.5,756.0 L1680.5,756.3 L1681.5,756.3 L1682.5,756.4 L1683.5,756.3 L1684.5,756.0 L1685.5,755.8 L1686.5,756.1 L1687.5,756.7 L1688.5,756.7 L1689.5,756.3 L1690.5,755.9 L1691.5,756.1 L1692.5,756.7 L1693.5,756.9 L1694.5,756.6 L1695.5,756.4 L1696.5,756.2 L1697.5,755.5 L1698.5,754.7 L1699.5,754.6 L1700.5,755.0 L1701.5,755.5 L1702.5,755.7 L1703.5,755.6 L1704.5,755.5 L1705.5,755.2 L1706.5,755.0 L1707.5,755.1 L1708.5,755.1 L1709.5,755.0 L1710.5,754.9 L1711.5,754.7 L1712.5,754.4 L1713.5,754.4 L1714.5,754.5 L1715.5,754.6 L1716.5,754.5 L1717.5,754.4 L1718.5,754.6 L1719.5,754.8 L1720.5,754.8 L1721.5,754.5 L1722.5,754.0 L1723.5,753.6 L1724.5,753.6 L1725.5,754.2 L1726.5,754.7 L1727.5,754.5 L1728.5,753.9 L1729.5,753.4 L1730.5,753.4 L1731.5,753.4 L1732.5,753.1 L1733.5,753.0 L1734.5,753.4 L1735.5,754.1 L1736.5,754.4 L1737.5,754.2 L1738.5,753.6 L1739.5,752.7 L1740.5,751.8 L1741.5,751.2 L1742.5,750.4 L1743.5,749.0 L1744.5,747.2 L1745.5,745.8 L1746.5,744.9 L1747.5,743.9 L1748.5,742.0 L1749.5,739.4 L1750.5,736.2 L1751.5,732.9 L1752.5,729.2 L1753.5,724.8 L1754.5,719.8 L1755.5,713.2 L1756.5,704.4 L1757.5,693.5 L1758.5,681.1 L1759.5,666.6 L1760.5,649.9 L1761.5,631.6 L1762.5,613.5 L1763.5,597.8 L1764.5,587.1 L1765.5,583.2 L1766.5,587.5 L1767.5,599.7 L1768.5,617.2 L1769.5,636.8 L1770.5,656.1 L1771.5,673.6 L1772.5,688.7 L1773.5,700.6 L1774.5,709.9 L1775.5,717.7 L1776.5,724.3 L1777.5,729.5 L1778.5,733.5 L1779.5,736.9 L1780.5,739.9 L1781.5,742.3 L1782.5,744.1 L1783.5,745.3 L1784.5,746.0 L1785.5,746.6 L1786.5,747.9 L1787.5,749.4 L1788.5,750.8 L1789.5,751.5 L1790.5,751.6 L1791.5,751.7 L1792.5,752.0 L1793.5,752.6 L1794.5,753.2 L1795.5,753.6 L1796.5,754.0 L1797.5,754.2 L1798.5,754.1 L1799.5,754.0 L1800.5,754.5 L1801.5,755.9 L1802.5,756.9 L1803.5,756.9 L1804.5,756.2 L1805.5,755.8 L1806.5,755.9 L1807.5,756.4 L1808.5,756.9 L1809.5,757.1 L1810.5,757.0 L1811.5,756.6 L1812.5,756.1 L1813.5,755.4 L1814.5,755.1 L1815.5,755.5 L1816.5,756.1 L1817.5,756.4 L1818.5,756.1 L1819.5,755.5 L1820.5,755.0 L1821.5,754.7 L1822.5,754.8 L1823.5,755.1 L1824.5,754.9 L1825.5,754.7 L1826.5,754.7 L1827.5,754.8 L1828.5,755.0 L1829.5,755.5 L1830.5,755.9 L1831.5,755.9 L1832.5,755.7 L1833.5,755.4 L1834.5,755.2 L1835.5,755.2 L1836.5,755.5 L1837.5,755.6 L1838.5,755.6 L1839.5,755.5 L1840.5,755.5 L1841.5,755.6 L1842.5,755.5 L1843.5,755.3 L1844.5,755.2 L1845.5,755.1 L1846.5,755.0 L1847.5,755.1 L1848.5,755.4 L1849.5,755.8 L1850.5,756.2 L1851.5,756.0 L1852.5,755.6 L1853.5,755.2 L1854.5,754.8 L1855.5,754.7 L1856.5,754.9 L1857.5,755.0 L1858.5,754.7 L1859.5,754.6 L1860.5,754.8 L1861.5,755.4 L1862.5,756.0 L1863.5,756.3 L1864.5,756.3 L1865.5,756.3 L1866.5,756.3 L1867.5,756.3 L1868.5,756.4 L1869.5,756.7 L1870.5,757.0 L1871.5,756.9 L1872.5,756.4 L1873.5,756.1 L1874.5,756.1 L1875.5,755.9 L1876.5,755.7 L1877.5,755.9 L1878.5,756.5 L1879.5,756.6 L1880.5,756.2 L1881.5,755.8 L1882.5,755.8 L1883.5,755.7 L1884.5,755.6 L1885.5,755.5 L1886.5,755.5 L1887.5,755.3 L1888.5,755.2 L1889.5,755.4 L1890.5,755.6 L1891.5,755.2 L1892.5,754.7 L1893.5,754.9 L1894.5,755.7 L1895.5,756.7 L1896.5,757.1 L1897.5,756.8 L1898.5,756.5 L1899.5,756.3 L1900.5,756.1 L1901.5,756.0 L1902.5,756.0 L1903.5,755.9 L1904.5,755.6 L1905.5,755.5 L1906.5,755.7 L1907.5,756.3 L1908.5,756.9 L1909.5,757.0 L1910.5,756.6 L1911.5,756.3 L1912.5,756.6 L1913.5,756.8 L1914.5,756.5 L1915.5,755.9 L1916.5,755.6 L1917.5,755.5 L1918.5,755.4 L1919.5,755.3 L1920.5,755.2 L1921.5,755.1 L1922.5,755.2 L1923.5,755.1 L1924.5,755.0 L1925.5,755.2 L1926.5,755.6 L1927.5,756.0 L1928.5,756.1 L1929.5,755.8 L1930.5,755.7 L1931.5,755.7 L1932.5,755.6 L1933.5,755.3 L1934.5,755.4 L1935.5,755.4 L1936.5,755.3 L1937.5,755.4 L1938.5,755.4 L1939.5,755.3 L1940.5,755.4 L1941.5,755.8 L1942.5,756.1 L1943.5,756.2 L1944.5,756.1 L1945.5,756.1 L1946.5,756.4 L1947.5,756.7 L1948.5,756.5 L1949.5,756.0 L1950.5,755.7 L1951.5,755.9 L1952.5,755.9 L1953.5,755.9 L1954.5,755.9 L1955.5,755.6 L1956.5,754.6 L1957.5,753.8 L1958.5,753.9 L1959.5,754.6 L1960.5,755.2 L1961.5,755.4 L1962.5,755.3 L1963.5,755.2 L1964.5,755.3 L1965.5,755.8 L1966.5,756.2 L1967.5,756.2 L1968.5,755.7 L1969.5,755.5 L1970.5,755.9 L1971.5,756.1 L1972.5,755.8 L1973.5,755.5 L1974.5,755.8 L1975.5,756.3 L1976.5,756.2 L1977.5,755.4 L1978.5,754.7 L1979.5,754.6 L1980.5,755.4 L1981.5,756.6 L1982.5,757.4 L1983.5,757.4 L1984.5,757.0 L1985.5,756.5 L1986.5,756.3 L1987.5,756.4"/>
<path stroke="#ff00ff" d="M149.5,469.1 L150.5,469.4 L151.5,469.8 L152.5,470.0 L153.5,469.8 L154.5,469.4 L155.5,469.1 L156.5,468.7 L157.5,468.4 L158.5,468.3 L159.5,468.3 L160.5,468.3 L161.5,468.4 L162.5,468.6 L163.5,468.8 L164.5,469.1 L165.5,469.3 L166.5,469.2 L167.5,469.0 L168.5,468.9 L169.5,468.6 L170.5,468.3 L171.5,468.5 L172.5,468.8 L173.5,468.9 L174.5,468.7 L175.5,468.4 L176.5,468.1 L177.5,467.7 L178.5,468.0 L179.5,468.8 L180.5,469.5 L181.5,469.8 L182.5,469.6 L183.5,469.4 L184.5,469.3 L185.5,469.1 L186.5,468.7 L187.5,468.5 L188.5,468.4 L189.5,468.4 L190.5,468.6 L191.5,468.8 L192.5,469.1 L193.5,469.3 L194.5,469.0 L195.5,468.9 L196.5,468.8 L197.5,468.6 L198.5,468.6 L199.5,469.0 L200.5,469.4 L201.5,469.6 L202.5,469.9 L203.5,470.0 L204.5,469.9 L205.5,469.2 L206.5,468.4 L207.5,467.8 L208.5,467.6 L209.5,467.9 L210.5,468.4 L211.5,469.1 L212.5,469.3 L213.5,468.8 L214.5,468.4 L215.5,468.4 L216.5,468.6 L217.5,468.5 L218.5,468.4 L219.5,468.5 L220.5,468.8 L221.5,468.9 L222.5,468.8 L223.5,468.9 L224.5,469.0 L225.5,469.0 L226.5,469.0 L227.5,469.3 L228.5,469.5 L229.5,469.3 L230.5,468.6 L231.5,468.1 L232.5,468.3 L233.5,468.8 L234.5,469.3 L235.5,469.9 L236.5,470.5 L237.5,470.7 L238.5,470.2 L239.5,469.2 L240.5,468.1 L241.5,467.8 L242.5,468.4 L243.5,469.0 L244.5,469.3 L245.5,469.3 L246.5,469.3 L247.5,469.1 L248.5,468.7 L249.5,468.4 L250.5,468.7 L251.5,469.2 L252.5,469.3 L253.5,468.9 L254.5,468.6 L255.5,468.7 L256.5,469.1 L257.5,469.5 L258.5,469.3 L259.5,469.0 L260.5,468.9 L261.5,468.8 L262.5,468.7 L263.5,469.0 L264.5,469.5 L265.5,469.5 L266.5,469.0 L267.5,468.4 L268.5,468.1 L269.5,468.3 L270.5,468.7 L271.5,468.8 L272.5,468.5 L273.5,468.1 L274.5,468.2 L275.5,468.6 L276.5,468.9 L277.5,469.0 L278.5,469.1 L279.5,469.0 L280.5,468.6 L281.5,468.1 L282.5,467.9 L283.5,468.3 L284.5,468.9 L285.5,469.1 L286.5,468.7 L287.5,468.2 L288.5,468.0 L289.5,468.2 L290.5,468.4 L291.5,468.6 L292.5,469.0 L293.5,469.8 L294.5,470.5 L295.5,470.8 L296.5,470.5 L297.5,469.9 L298.5,469.5 L299.5,469.2 L300.5,468.9 L301.5,468.6 L302.5,468.4 L303.5,468.5 L304.5,468.8 L305.5,468.8 L306.5,468.5 L307.5,468.2 L308.5,468.1 L309.5,468.4 L310.5,468.8 L311.5,468.9 L312.5,468.6 L313.5,468.0 L314.5,467.5 L315.5,467.7 L316.5,468.3 L317.5,468.7 L318.5,468.4 L319.5,467.9 L320.5,467.5 L321.5,467.2 L322.5,467.2 L323.5,467.7 L324.5,468.3 L325.5,468.9 L326.5,469.3 L327.5,469.5 L328.5,469.7 L329.5,469.9 L330.5,469.5 L331.5,468.7 L332.5,468.3 L333.5,468.2 L334.5,467.7 L335.5,467.1 L336.5,466.8 L337.5,466.9 L338.5,467.5 L339.5,468.5 L340.5,469.3 L341.5,469.2 L342.5,468.4 L343.5,467.7 L344.5,467.6 L345.5,468.0 L346.5,468.0 L347.5,467.7 L348.5,467.3 L349.5,467.1 L350.5,467.1 L351.5,467.6 L352.5,468.3 L353.5,468.8 L354.5,468.6 L355.5,468.2 L356.5,468.3 L357.5,468.6 L358.5,468.7 L359.5,468.6 L360.5,468.6 L361.5,468.7 L362.5,468.6 L363.5,468.2 L364.5,468.0 L365.5,468.2 L366.5,468.7 L367.5,469.3 L368.5,469.7 L369.5,470.0 L370.5,469.8 L371.5,469.2 L372.5,468.5 L373.5,468.0 L374.5,467.8 L375.5,468.0 L376.5,468.3 L377.5,468.4 L378.5,468.6 L379.5,468.7 L380.5,468.8 L381.5,469.3 L382.5,469.8 L383.5,469.7 L384.5,469.1 L385.5,468.6 L386.5,468.7 L387.5,469.2 L388.5,469.8 L389.5,470.3 L390.5,470.4 L391.5,470.1 L392.5,469.4 L393.5,469.1 L394.5,469.2 L395.5,469.4 L396.5,469.6 L397.5,469.8 L398.5,470.1 L399.5,469.9 L400.5,469.2 L401.5,468.5 L402.5,468.4 L403.5,468.7 L404.5,468.8 L405.5,468.4 L406.5,468.0 L407.5,467.8 L408.5,467.8 L409.5,468.0 L410.5,468.3 L411.5,468.7 L412.5,469.0 L413.5,469.2 L414.5,469.3 L415.5,469.3 L416.5,469.3 L417.5,469.6 L418.5,469.8 L419.5,469.8 L420.5,469.5 L421.5,469.2 L422.5,468.9 L423.5,468.4 L424.5,467.8 L425.5,467.6 L426.5,467.9 L427.5,468.0 L428.5,468.0 L429.5,468.3 L430.5,468.6 L431.5,468.5 L432.5,468.2 L433.5,468.1 L434.5,468.2 L435.5,468.5 L436.5,468.8 L437.5,469.2 L438.5,469.2 L439.5,468.8 L440.5,468.2 L441.5,467.6 L442.5,467.1 L443.5,467.0 L444.5,467.2 L445.5,467.6 L446.5,468.2 L447.5,468.9 L448.5,469.4 L449.5,469.1 L450.5,468.3 L451.5,468.0 L452.5,468.2 L453.5,468.6 L454.5,469.1 L455.5,469.3 L456.5,469.2 L457.5,468.7 L458.5,467.7 L459.5,466.9 L460.5,466.8 L461.5,467.2 L462.5,467.8 L463.5,468.5 L464.5,469.1 L465.5,469.5 L466.5,469.6 L467.5,469.5 L468.5,469.2 L469.5,468.8 L470.5,468.6 L471.5,468.6 L472.5,468.9 L473.5,468.9 L474.5,468.4 L475.5,468.2 L476.5,468.3 L477.5,468.4 L478.5,468.7 L479.5,469.2 L480.5,469.6 L481.5,469.6 L482.5,469.1 L483.5,468.7 L484.5,468.7 L485.5,468.8 L486.5,468.6 L487.5,468.8 L488.5,469.3 L489.5,469.7 L490.5,469.5 L491.5,469.4 L492.5,469.5 L493.5,469.4 L494.5,469.1 L495.5,468.7 L496.5,468.5 L497.5,468.4 L498.5,468.6 L499.5,468.5 L500.5,467.9 L501.5,467.7 L502.5,468.4 L503.5,469.3 L504.5,469.8 L505.5,469.8 L506.5,469.4 L507.5,469.3 L508.5,469.6 L509.5,469.8 L510.5,469.3 L511.5,468.4 L512.5,467.8 L513.5,467.7 L514.5,468.1 L515.5,468.5 L516.5,468.5 L517.5,468.5 L518.5,468.8 L519.5,469.2 L520.5,469.2 L521.5,469.1 L522.5,469.1 L523.5,469.2 L524.5,469.5 L525.5,469.5 L526.5,469.4 L527.5,469.4 L528.5,469.5 L529.5,469.6 L530.5,469.3 L531.5,468.8 L532.5,468.4 L533.5,468.3 L534.5,468.4 L535.5,468.6 L536.5,468.8 L537.5,468.6 L538.5,468.2 L539.5,467.9 L540.5,468.2 L541.5,468.5 L542.5,468.4 L543.5,467.8 L544.5,467.2 L545.5,466.9 L546.5,467.2 L547.5,467.9 L548.5,468.3 L549.5,468.0 L550.5,467.7 L551.5,467.9 L552.5,468.4 L553.5,468.9 L554.5,469.3 L555.5,469.3 L556.5,468.7 L557.5,467.7 L558.5,467.2 L559.5,467.0 L560.5,466.7 L561.5,466.5 L562.5,466.6 L563.5,467.3 L564.5,468.1 L565.5,468.7 L566.5,468.9 L567.5,468.6 L568.5,468.0 L569.5,467.8 L570.5,468.1 L571.5,468.4 L572.5,468.7 L573.5,469.4 L574.5,469.9 L575.5,469.8 L576.5,469.4 L577.5,469.1 L578.5,469.1 L579.5,469.3 L580.5,469.2 L581.5,468.9 L582.5,468.4 L583.5,468.5 L584.5,469.1 L585.5,469.7 L586.5,469.6 L587.5,468.9 L588.5,468.2 L589.5,467.8 L590.5,467.9 L591.5,468.3 L592.5,468.3 L593.5,468.0 L594.5,468.1 L595.5,468.8 L596.5,469.5 L597.5,469.5 L598.5,469.2 L599.5,469.0 L600.5,468.6 L601.5,468.2 L602.5,468.0 L603.5,468.4 L604.5,468.9 L605.5,468.7 L606.5,468.1 L607.5,467.8 L608.5,467.9 L609.5,468.1 L610.5,468.3 L611.5,468.3 L612.5,468.3 L613.5,468.5 L614.5,468.8 L615.5,468.9 L616.5,468.8 L617.5,468.5 L618.5,468.3 L619.5,468.5 L620.5,468.8 L621.5,468.9 L622.5,468.8 L623.5,468.6 L624.5,468.4 L625.5,468.1 L626.5,467.8 L627.5,467.7 L628.5,468.1 L629.5,468.3 L630.5,468.3 L631.5,468.1 L632.5,467.9 L633.5,468.0 L634.5,468.3 L635.5,468.3 L636.5,467.9 L637.5,467.5 L638.5,467.5 L639.5,467.6 L640.5,467.4 L641.5,467.2 L642.5,467.1 L643.5,467.3 L644.5,467.9 L645.5,468.4 L646.5,468.3 L647.5,467.8 L648.5,467.3 L649.5,467.2 L650.5,467.5 L651.5,467.9 L652.5,468.1 L653.5,468.3 L654.5,468.3 L655.5,467.9 L656.5,467.3 L657.5,467.3 L658.5,467.7 L659.5,467.7 L660.5,467.4 L661.5,467.1 L662.5,467.0 L663.5,466.8 L664.5,466.4 L665.5,466.0 L666.5,466.0 L667.5,466.3 L668.5,466.6 L669.5,466.8 L670.5,467.1 L671.5,467.3 L672.5,467.2 L673.5,466.8 L674.5,466.1 L675.5,465.2 L676.5,464.0 L677.5,463.1 L678.5,462.7 L679.5,462.1 L680.5,460.7 L681.5,458.9 L682.5,456.9 L683.5,454.9 L684.5,452.8 L685.5,450.2 L686.5,446.7 L687.5,441.8 L688.5,435.5 L689.5,428.5 L690.5,420.9 L691.5,412.1 L692.5,402.6 L693.5,394.2 L694.5,388.8 L695.5,386.8 L696.5,388.3 L697.5,392.9 L698.5,399.5 L699.5,406.2 L700.5,411.2 L701.5,414.0 L702.5,415.2 L703.5,415.0 L704.5,412.7 L705.5,408.3 L706.5,402.2 L707.5,394.0 L708.5,383.3 L709.5,370.2 L710.5,355.1 L711.5,338.7 L712.5,322.4 L713.5,308.2 L714.5,298.0 L715.5,294.0 L716.5,297.6 L717.5,308.6 L718.5,324.6 L719.5,342.9 L720.5,361.8 L721.5,379.7 L722.5,395.8 L723.5,409.1 L724.5,419.8 L725.5,428.0 L726.5,434.4 L727.5,439.7 L728.5,444.4 L729.5,448.2 L730.5,451.2 L731.5,453.6 L732.5,455.8 L733.5,457.6 L734.5,459.0 L735.5,460.4 L736.5,461.6 L737.5,462.5 L738.5,463.1 L739.5,463.5 L740.5,464.0 L741.5,464.5 L742.5,464.6 L743.5,464.7 L744.5,465.3 L745.5,466.0 L746.5,466.4 L747.5,466.7 L748.5,467.2 L749.5,467.7 L750.5,468.1 L751.5,468.2 L752.5,468.0 L753.5,467.9 L754.5,468.1 L755.5,468.5 L756.5,468.8 L757.5,468.6 L758.5,468.3 L759.5,467.9 L760.5,467.9 L761.5,468.3 L762.5,468.7 L763.5,468.3 L764.5,467.2 L765.5,466.9 L766.5,467.3 L767.5,467.7 L768.5,467.7 L769.5,467.6 L770.5,467.7 L771.5,467.9 L772.5,468.3 L773.5,468.6 L774.5,468.8 L775.5,468.8 L776.5,468.7 L777.5,468.5 L778.5,467.8 L779.5,467.2 L780.5,467.1 L781.5,467.4 L782.5,467.5 L783.5,467.4 L784.5,467.4 L785.5,467.3 L786.5,467.2 L787.5,467.0 L788.5,467.2 L789.5,467.7 L790.5,468.1 L791.5,468.6 L792.5,469.0 L793.5,468.8 L794.5,468.1 L795.5,467.2 L796.5,467.1 L797.5,467.7 L798.5,468.2 L799.5,468.2 L800.5,468.0 L801.5,467.9 L802.5,468.0 L803.5,468.2 L804.5,468.4 L805.5,468.6 L806.5,468.6 L807.5,468.4 L808.5,468.2 L809.5,468.0 L810.5,467.9 L811.5,467.7 L812.5,467.5 L813.5,467.1 L814.5,466.8 L815.5,466.5 L816.5,466.2 L817.5,465.8 L818.5,465.5 L819.5,465.3 L820.5,465.4 L821.5,465.7 L822.5,465.9 L823.5,465.8 L824.5,465.6 L825.5,465.6 L826.5,465.7 L827.5,465.3 L828.5,464.0 L829.5,462.7 L830.5,462.4 L831.5,462.7 L832.5,462.5 L833.5,461.2 L834.5,459.7 L835.5,458.4 L836.5,457.0 L837.5,455.3 L838.5,453.5 L839.5,451.5 L840.5,449.3 L841.5,446.6 L842.5,443.2 L843.5,439.4 L844.5,434.7 L845.5,428.5 L846.5,421.0 L847.5,412.2 L848.5,401.5 L849.5,388.2 L850.5,372.2 L851.5,353.8 L852.5,332.9 L853.5,309.7 L854.5,285.1 L855.5,261.6 L856.5,242.8 L857.5,232.3 L858.5,233.0 L859.5,248.0 L860.5,272.9 L861.5,302.1 L862.5,331.2 L863.5,357.1 L864.5,378.4 L865.5,395.2 L866.5,408.5 L867.5,419.1 L868.5,428.0 L869.5,435.5 L870.5,441.4 L871.5,445.9 L872.5,449.1 L873.5,451.6 L874.5,453.7 L875.5,455.8 L876.5,457.8 L877.5,459.2 L878.5,460.1 L879.5,461.1 L880.5,462.6 L881.5,463.9 L882.5,464.7 L883.5,465.0 L884.5,465.3 L885.5,465.9 L886.5,466.3 L887.5,466.2 L888.5,466.1 L889.5,466.4 L890.5,466.8 L891.5,466.5 L892.5,465.9 L893.5,465.3 L894.5,464.7 L895.5,464.2 L896.5,464.4 L897.5,465.2 L898.5,466.0 L899.5,466.7 L900.5,467.2 L901.5,467.7 L902.5,467.8 L903.5,467.5 L904.5,467.6 L905.5,468.3 L906.5,468.5 L907.5,467.7 L908.5,467.0 L909.5,467.1 L910.5,467.5 L911.5,467.7 L912.5,467.5 L913.5,467.3 L914.5,467.0 L915.5,466.8 L916.5,467.0 L917.5,467.8 L918.5,468.3 L919.5,468.8 L920.5,469.2 L921.5,469.4 L922.5,469.4 L923.5,469.2 L924.5,469.2 L925.5,469.2 L926.5,468.9 L927.5,468.1 L928.5,467.4 L929.5,467.3 L930.5,467.4 L931.5,467.5 L932.5,467.7 L933.5,467.8 L934.5,467.9 L935.5,467.8 L936.5,467.9 L937.5,468.7 L938.5,469.7 L939.5,470.0 L940.5,469.9 L941.5,469.8 L942.5,469.5 L943.5,469.0 L944.5,468.8 L945.5,469.0 L946.5,469.2 L947.5,469.4 L948.5,469.7 L949.5,470.1 L950.5,470.4 L951.5,470.8 L952.5,470.9 L953.5,470.6 L954.5,469.9 L955.5,469.4 L956.5,469.3 L957.5,469.4 L958.5,469.3 L959.5,468.6 L960.5,467.9 L961.5,467.9 L962.5,468.5 L963.5,469.0 L964.5,468.8 L965.5,468.2 L966.5,468.0 L967.5,468.2 L968.5,468.4 L969.5,468.3 L970.5,468.1 L971.5,468.4 L972.5,468.9 L973.5,469.1 L974.5,468.8 L975.5,468.3 L976.5,467.9 L977.5,467.9 L978.5,468.0 L979.5,468.0 L980.5,468.0 L981.5,468.6 L982.5,469.3 L983.5,469.5 L984.5,469.3 L985.5,469.3 L986.5,469.2 L987.5,468.8 L988.5,468.2 L989.5,468.0 L990.5,468.1 L991.5,468.2 L992.5,468.0 L993.5,468.1 L994.5,468.4 L995.5,468.5 L996.5,468.5 L997.5,468.8 L998.5,469.1 L999.5,469.1 L1000.5,468.9 L1001.5,468.5 L1002.5,467.9 L1003.5,467.6 L1004.5,467.9 L1005.5,468.5 L1006.5,468.9 L1007.5,468.8 L1008.5,468.3 L1009.5,467.9 L1010.5,467.9 L1011.5,467.8 L1012.5,467.6 L1013.5,467.7 L1014.5,467.9 L1015.5,468.4 L1016.5,468.9 L1017.5,469.2 L1018.5,468.9 L1019.5,468.1 L1020.5,467.4 L1021.5,467.0 L1022.5,467.1 L1023.5,467.3 L1024.5,467.4 L1025.5,467.6 L1026.5,468.3 L1027.5,468.8 L1028.5,468.9 L1029.5,468.7 L1030.5,468.5 L1031.5,468.4 L1032.5,468.6 L1033.5,468.7 L1034.5,468.4 L1035.5,468.0 L1036.5,468.3 L1037.5,468.9 L1038.5,468.9 L1039.5,468.5 L1040.5,468.5 L1041.5,468.7 L1042.5,468.6 L1043.5,468.7 L1044.5,469.2 L1045.5,469.4 L1046.5,469.3 L1047.5,469.0 L1048.5,468.8 L1049.5,468.7 L1050.5,468.5 L1051.5,468.6 L1052.5,469.0 L1053.5,469.6 L1054.5,470.0 L1055.5,470.4 L1056.5,470.6 L1057.5,470.5 L1058.5,470.0 L1059.5,469.4 L1060.5,469.0 L1061.5,468.6 L1062.5,468.6 L1063.5,468.9 L1064.5,469.2 L1065.5,468.9 L1066.5,468.7 L1067.5,468.9 L1068.5,469.3 L1069.5,469.6 L1070.5,469.4 L1071.5,469.0 L1072.5,468.7 L1073.5,468.5 L1074.5,468.4 L1075.5,468.4 L1076.5,468.7 L1077.5,469.0 L1078.5,469.1 L1079.5,469.0 L1080.5,469.1 L1081.5,469.1 L1082.5,469.0 L1083.5,469.0 L1084.5,469.1 L1085.5,469.3 L1086.5,469.5 L1087.5,469.8 L1088.5,470.0 L1089.5,469.7 L1090.5,469.2 L1091.5,469.0 L1092.5,469.2 L1093.5,469.3 L1094.5,468.9 L1095.5,468.4 L1096.5,468.2 L1097.5,468.2 L1098.5,468.4 L1099.5,468.7 L1100.5,469.1 L1101.5,469.1 L1102.5,468.9 L1103.5,468.8 L1104.5,469.1 L1105.5,469.1 L1106.5,468.6 L1107.5,468.0 L1108.5,468.0 L1109.5,468.4 L1110.5,468.7 L1111.5,468.4 L1112.5,467.7 L1113.5,467.5 L1114.5,467.8 L1115.5,468.1 L1116.5,468.4 L1117.5,468.6 L1118.5,468.9 L1119.5,468.8 L1120.5,468.4 L1121.5,467.9 L1122.5,468.0 L1123.5,468.2 L1124.5,468.3 L1125.5,468.3 L1126.5,468.3 L1127.5,468.3 L1128.5,468.5 L1129.5,468.6 L1130.5,468.6 L1131.5,468.6 L1132.5,468.8 L1133.5,469.0 L1134.5,469.2 L1135.5,469.2 L1136.5,468.8 L1137.5,468.6 L1138.5,468.9 L1139.5,469.2 L1140.5,468.8 L1141.5,468.2 L1142.5,467.7 L1143.5,467.5 L1144.5,467.8 L1145.5,468.2 L1146.5,468.6 L1147.5,468.7 L1148.5,468.2 L1149.5,466.9 L1150.5,466.2 L1151.5,466.5 L1152.5,467.0 L1153.5,466.9 L1154.5,466.3 L1155.5,465.9 L1156.5,466.1 L1157.5,466.2 L1158.5,465.9 L1159.5,465.5 L1160.5,465.3 L1161.5,464.9 L1162.5,464.5 L1163.5,464.3 L1164.5,463.7 L1165.5,462.8 L1166.5,462.2 L1167.5,461.8 L1168.5,461.3 L1169.5,460.8 L1170.5,460.3 L1171.5,459.2 L1172.5,458.0 L1173.5,457.4 L1174.5,457.5 L1175.5,457.9 L1176.5,458.3 L1177.5,458.3 L1178.5,458.0 L1179.5,458.0 L1180.5,458.7 L1181.5,459.8 L1182.5,460.9 L1183.5,461.6 L1184.5,462.1 L1185.5,462.5 L1186.5,462.7 L1187.5,463.2 L1188.5,464.1 L1189.5,465.2 L1190.5,466.0 L1191.5,466.4 L1192.5,466.5 L1193.5,466.4 L1194.5,466.6 L1195.5,466.9 L1196.5,467.1 L1197.5,467.1 L1198.5,467.2 L1199.5,467.5 L1200.5,467.5 L1201.5,467.3 L1202.5,467.0 L1203.5,466.9 L1204.5,467.3 L1205.5,467.8 L1206.5,467.8 L1207.5,467.4 L1208.5,467.4 L1209.5,467.6 L1210.5,467.8 L1211.5,468.0 L1212.5,468.3 L1213.5,468.4 L1214.5,468.4 L1215.5,468.4 L1216.5,468.4 L1217.5,468.5 L1218.5,468.8 L1219.5,468.9 L1220.5,469.1 L1221.5,469.4 L1222.5,469.8 L1223.5,469.8 L1224.5,469.3 L1225.5,468.5 L1226.5,468.1 L1227.5,468.1 L1228.5,468.4 L1229.5,468.9 L1230.5,469.1 L1231.5,469.0 L1232.5,468.9 L1233.5,469.0 L1234.5,469.2 L1235.5,469.6 L1236.5,469.9 L1237.5,469.7 L1238.5,469.3 L1239.5,469.4 L1240.5,469.8 L1241.5,469.9 L1242.5,469.5 L1243.5,468.7 L1244.5,467.9 L1245.5,467.4 L1246.5,467.5 L1247.5,467.8 L1248.5,468.5 L1249.5,469.2 L1250.5,469.6 L1251.5,469.6 L1252.5,469.3 L1253.5,469.2 L1254.5,469.0 L1255.5,468.5 L1256.5,468.1 L1257.5,468.1 L1258.5,468.3 L1259.5,468.5 L1260.5,468.9 L1261.5,469.1 L1262.5,468.9 L1263.5,468.4 L1264.5,468.0 L1265.5,467.7 L1266.5,467.5 L1267.5,467.5 L1268.5,467.7 L1269.5,468.1 L1270.5,468.6 L1271.5,468.7 L1272.5,468.5 L1273.5,468.2 L1274.5,468.4 L1275.5,468.7 L1276.5,468.7 L1277.5,468.4 L1278.5,468.3 L1279.5,468.2 L1280.5,468.2 L1281.5,468.1 L1282.5,467.9 L1283.5,467.4 L1284.5,467.1 L1285.5,467.3 L1286.5,467.6 L1287.5,468.0 L1288.5,468.5 L1289.5,468.9 L1290.5,468.8 L1291.5,468.8 L1292.5,469.4 L1293.5,470.1 L1294.5,470.3 L1295.5,469.8 L1296.5,469.3 L1297.5,469.1 L1298.5,469.0 L1299.5,468.6 L1300.5,468.4 L1301.5,468.5 L1302.5,468.7 L1303.5,468.8 L1304.5,468.9 L1305.5,469.1 L1306.5,469.2 L1307.5,469.3 L1308.5,469.3 L1309.5,469.2 L1310.5,469.2 L1311.5,469.4 L1312.5,469.5 L1313.5,469.1 L1314.5,468.5 L1315.5,467.8 L1316.5,467.6 L1317.5,468.1 L1318.5,468.8 L1319.5,468.7 L1320.5,467.9 L1321.5,467.3 L1322.5,467.5 L1323.5,468.2 L1324.5,468.6 L1325.5,468.6 L1326.5,468.8 L1327.5,469.1 L1328.5,468.9 L1329.5,468.2 L1330.5,467.9 L1331.5,468.2 L1332.5,468.7 L1333.5,468.7 L1334.5,468.6 L1335.5,468.8 L1336.5,469.1 L1337.5,469.0 L1338.5,468.7 L1339.5,468.5 L1340.5,468.3 L1341.5,468.0 L1342.5,468.1 L1343.5,468.5 L1344.5,468.9 L1345.5,469.2 L1346.5,469.4 L1347.5,469.3 L1348.5,468.8 L1349.5,468.3 L1350.5,468.0 L1351.5,468.0 L1352.5,468.3 L1353.5,468.7 L1354.5,469.3 L1355.5,469.6 L1356.5,469.3 L1357.5,468.4 L1358.5,467.5 L1359.5,467.3 L1360.5,467.8 L1361.5,468.5 L1362.5,468.9 L1363.5,468.8 L1364.5,468.6 L1365.5,468.3 L1366.5,468.1 L1367.5,467.8 L1368.5,467.3 L1369.5,467.0 L1370.5,467.3 L1371.5,468.0 L1372.5,468.5 L1373.5,468.4 L1374.5,468.4 L1375.5,468.7 L1376.5,468.7 L1377.5,468.0 L1378.5,466.7 L1379.5,465.7 L1380.5,465.8 L1381.5,466.2 L1382.5,466.4 L1383.5,466.1 L1384.5,465.8 L1385.5,465.9 L1386.5,466.2 L1387.5,466.7 L1388.5,467.1 L1389.5,467.1 L1390.5,466.6 L1391.5,465.9 L1392.5,465.3 L1393.5,464.7 L1394.5,464.1 L1395.5,463.5 L1396.5,463.1 L1397.5,462.6 L1398.5,461.6 L1399.5,459.6 L1400.5,457.2 L1401.5,454.9 L1402.5,452.4 L1403.5,449.9 L1404.5,447.6 L1405.5,445.7 L1406.5,444.5 L1407.5,444.1 L1408.5,444.2 L1409.5,444.8 L1410.5,446.1 L1411.5,448.4 L1412.5,451.4 L1413.5,454.3 L1414.5,457.0 L1415.5,459.1 L1416.5,460.8 L1417.5,462.3 L1418.5,463.8 L1419.5,465.1 L1420.5,466.0 L1421.5,466.5 L1422.5,466.6 L1423.5,466.6 L1424.5,466.8 L1425.5,467.3 L1426.5,467.8 L1427.5,468.3 L1428.5,468.6 L1429.5,468.3 L1430.5,467.7 L1431.5,467.4 L1432.5,467.9 L1433.5,468.6 L1434.5,469.1 L1435.5,469.1 L1436.5,468.7 L1437.5,468.3 L1438.5,468.2 L1439.5,468.4 L1440.5,468.6 L1441.5,468.7 L1442.5,468.7 L1443.5,468.9 L1444.5,469.1 L1445.5,468.5 L1446.5,467.7 L1447.5,467.4 L1448.5,467.6 L1449.5,467.9 L1450.5,467.9 L1451.5,467.4 L1452.5,467.0 L1453.5,467.0 L1454.5,467.6 L1455.5,468.3 L1456.5,468.8 L1457.5,469.1 L1458.5,469.1 L1459.5,469.0 L1460.5,469.0 L1461.5,468.7 L1462.5,468.0 L1463.5,467.4 L1464.5,467.4 L1465.5,468.1 L1466.5,468.9 L1467.5,469.6 L1468.5,470.3 L1469.5,470.7 L1470.5,470.6 L1471.5,470.4 L1472.5,470.0 L1473.5,469.5 L1474.5,469.3 L1475.5,469.3 L1476.5,469.6 L1477.5,470.1 L1478.5,470.0 L1479.5,469.7 L1480.5,469.5 L1481.5,469.5 L1482.5,469.5 L1483.5,469.4 L1484.5,469.3 L1485.5,469.2 L1486.5,469.1 L1487.5,469.0 L1488.5,469.3 L1489.5,469.8 L1490.5,470.6 L1491.5,471.1 L1492.5,470.9 L1493.5,469.8 L1494.5,468.7 L1495.5,468.0 L1496.5,467.8 L1497.5,467.7 L1498.5,467.7 L1499.5,467.9 L1500.5,468.4 L1501.5,468.7 L1502.5,469.0 L1503.5,469.4 L1504.5,469.8 L1505.5,469.9 L1506.5,469.5 L1507.5,468.9 L1508.5,468.4 L1509.5,468.4 L1510.5,469.0 L1511.5,469.8 L1512.5,470.2 L1513.5,470.3 L1514.5,470.1 L1515.5,469.8 L1516.5,469.5 L1517.5,469.2 L1518.5,468.6 L1519.5,467.9 L1520.5,468.0 L1521.5,468.9 L1522.5,469.7 L1523.5,469.8 L1524.5,469.5 L1525.5,468.9 L1526.5,468.5 L1527.5,468.4 L1528.5,468.6 L1529.5,468.8 L1530.5,468.7 L1531.5,468.7 L1532.5,468.7 L1533.5,468.7 L1534.5,468.7 L1535.5,468.7 L1536.5,468.4 L1537.5,467.8 L1538.5,467.7 L1539.5,468.2 L1540.5,468.8 L1541.5,468.9 L1542.5,468.5 L1543.5,467.6 L1544.5,466.3 L1545.5,465.4 L1546.5,465.4 L1547.5,465.7 L1548.5,465.7 L1549.5,465.4 L1550.5,465.4 L1551.5,465.4 L1552.5,464.9 L1553.5,464.4 L1554.5,464.4 L1555.5,464.8 L1556.5,464.9 L1557.5,464.7 L1558.5,464.2 L1559.5,463.6 L1560.5,462.7 L1561.5,461.7 L1562.5,460.8 L1563.5,459.8 L1564.5,458.5 L1565.5,457.2 L1566.5,456.3 L1567.5,455.7 L1568.5,455.5 L1569.5,455.7 L1570.5,456.1 L1571.5,456.0 L1572.5,455.7 L1573.5,455.7 L1574.5,455.8 L1575.5,456.2 L1576.5,457.2 L1577.5,458.5 L1578.5,459.4 L1579.5,459.6 L1580.5,459.3 L1581.5,459.2 L1582.5,459.9 L1583.5,461.0 L1584.5,461.9 L1585.5,462.1 L1586.5,462.2 L1587.5,462.8 L1588.5,463.6 L1589.5,464.3 L1590.5,465.0 L1591.5,465.6 L1592.5,466.2 L1593.5,466.7 L1594.5,467.0 L1595.5,467.0 L1596.5,466.6 L1597.5,466.2 L1598.5,466.1 L1599.5,466.3 L1600.5,466.4 L1601.5,466.4 L1602.5,466.8 L1603.5,467.6 L1604.5,468.3 L1605.5,468.5 L1606.5,468.5 L1607.5,468.5 L1608.5,468.6 L1609.5,468.7 L1610.5,468.9 L1611.5,468.8 L1612.5,468.7 L1613.5,468.4 L1614.5,468.0 L1615.5,467.5 L1616.5,467.4 L1617.5,467.9 L1618.5,468.5 L1619.5,468.5 L1620.5,468.2 L1621.5,468.0 L1622.5,468.0 L1623.5,468.4 L1624.5,468.8 L1625.5,468.8 L1626.5,468.5 L1627.5,468.3 L1628.5,468.3 L1629.5,468.5 L1630.5,468.6 L1631.5,468.7 L1632.5,469.1 L1633.5,469.5 L1634.5,469.4 L1635.5,469.0 L1636.5,468.7 L1637.5,468.4 L1638.5,468.2 L1639.5,468.1 L1640.5,468.2 L1641.5,468.9 L1642.5,469.7 L1643.5,470.3 L1644.5,470.6 L1645.5,470.2 L1646.5,469.5 L1647.5,468.9 L1648.5,468.8 L1649.5,469.1 L1650.5,469.6 L1651.5,469.9 L1652.5,469.7 L1653.5,469.4 L1654.5,469.2 L1655.5,469.1 L1656.5,468.8 L1657.5,468.5 L1658.5,468.3 L1659.5,468.1 L1660.5,468.0 L1661.5,468.4 L1662.5,468.9 L1663.5,469.3 L1664.5,469.2 L1665.5,468.9 L1666.5,468.8 L1667.5,468.8 L1668.5,468.9 L1669.5,469.0 L1670.5,469.2 L1671.5,469.7 L1672.5,469.8 L1673.5,469.5 L1674.5,469.2 L1675.5,468.9 L1676.5,468.6 L1677.5,468.3 L1678.5,468.2 L1679.5,468.5 L1680.5,468.9 L1681.5,469.1 L1682.5,469.0 L1683.5,469.0 L1684.5,469.3 L1685.5,469.5 L1686.5,469.5 L1687.5,469.3 L1688.5,469.1 L1689.5,468.8 L1690.5,468.4 L1691.5,468.3 L1692.5,468.3 L1693.5,468.1 L1694.5,467.8 L1695.5,468.0 L1696.5,468.4 L1697.5,468.7 L1698.5,468.8 L1699.5,468.9 L1700.5,469.1 L1701.5,469.3 L1702.5,469.3 L1703.5,468.9 L1704.5,468.0 L1705.5,467.4 L1706.5,467.4 L1707.5,467.9 L1708.5,468.2 L1709.5,468.5 L1710.5,468.9 L1711.5,468.8 L1712.5,468.1 L1713.5,467.3 L1714.5,467.3 L1715.5,467.9 L1716.5,468.5 L1717.5,468.9 L1718.5,469.1 L1719.5,469.2 L1720.5,469.4 L1721.5,469.5 L1722.5,469.1 L1723.5,468.4 L1724.5,468.1 L1725.5,468.2 L1726.5,468.4 L1727.5,468.8 L1728.5,469.1 L1729.5,469.0 L1730.5,468.8 L1731.5,468.8 L1732.5,468.7 L1733.5,468.3 L1734.5,467.9 L1735.5,467.7 L1736.5,467.5 L1737.5,467.1 L1738.5,466.7 L1739.5,466.4 L1740.5,466.4 L1741.5,466.4 L1742.5,466.3 L1743.5,466.4 L1744.5,466.6 L1745.5,466.8 L1746.5,466.9 L1747.5,466.6 L1748.5,466.0 L1749.5,465.5 L1750.5,464.9 L1751.5,464.2 L1752.5,463.8 L1753.5,463.6 L1754.5,463.4 L1755.5,462.7 L1756.5,461.1 L1757.5,459.3 L1758.5,457.7 L1759.5,456.1 L1760.5,454.0 L1761.5,451.6 L1762.5,448.8 L1763.5,444.8 L1764.5,439.6 L1765.5,434.2 L1766.5,429.1 L1767.5,423.8 L1768.5,418.2 L1769.5,413.5 L1770.5,410.5 L1771.5,410.1 L1772.5,412.5 L1773.5,416.9 L1774.5,422.4 L1775.5,428.5 L1776.5,434.8 L1777.5,440.4 L1778.5,444.9 L1779.5,448.4 L1780.5,451.4 L1781.5,454.0 L1782.5,456.3 L1783.5,458.0 L1784.5,459.2 L1785.5,460.4 L1786.5,461.7 L1787.5,462.7 L1788.5,463.2 L1789.5,463.3 L1790.5,463.4 L1791.5,463.8 L1792.5,464.7 L1793.5,465.9 L1794.5,466.8 L1795.5,467.2 L1796.5,467.2 L1797.5,467.3 L1798.5,467.3 L1799.5,467.0 L1800.5,466.8 L1801.5,466.7 L1802.5,466.8 L1803.5,466.9 L1804.5,466.9 L1805.5,467.1 L1806.5,467.4 L1807.5,467.8 L1808.5,467.9 L1809.5,468.0 L1810.5,468.1 L1811.5,468.3 L1812.5,468.3 L1813.5,468.1 L1814.5,468.0 L1815.5,467.9 L1816.5,467.9 L1817.5,468.0 L1818.5,468.1 L1819.5,467.9 L1820.5,467.8 L1821.5,467.8 L1822.5,468.0 L1823.5,468.2 L1824.5,468.2 L1825.5,467.8 L1826.5,467.7 L1827.5,467.8 L1828.5,468.1 L1829.5,468.8 L1830.5,469.3 L1831.5,469.5 L1832.5,469.4 L1833.5,469.0 L1834.5,468.8 L1835.5,468.7 L1836.5,468.8 L1837.5,469.0 L1838.5,469.1 L1839.5,468.9 L1840.5,468.7 L1841.5,468.5 L1842.5,467.8 L1843.5,466.8 L1844.5,466.1 L1845.5,466.4 L1846.5,467.3 L1847.5,468.1 L1848.5,468.5 L1849.5,468.9 L1850.5,469.2 L1851.5,469.3 L1852.5,469.5 L1853.5,469.8 L1854.5,469.8 L1855.5,469.5 L1856.5,469.5 L1857.5,469.8 L1858.5,470.0 L1859.5,469.9 L1860.5,470.0 L1861.5,470.3 L1862.5,470.4 L1863.5,470.1 L1864.5,469.8 L1865.5,469.5 L1866.5,469.5 L1867.5,469.5 L1868.5,469.3 L1869.5,469.0 L1870.5,469.1 L1871.5,469.5 L1872.5,469.6 L1873.5,469.3 L1874.5,469.0 L1875.5,469.1 L1876.5,469.2 L1877.5,468.8 L1878.5,467.9 L1879.5,467.1 L1880.5,466.8 L1881.5,466.8 L1882.5,467.2 L1883.5,467.7 L1884.5,468.0 L1885.5,468.2 L1886.5,468.2 L1887.5,468.2 L1888.5,468.1 L1889.5,468.1 L1890.5,468.3 L1891.5,468.7 L1892.5,468.8 L1893.5,468.8 L1894.5,468.9 L1895.5,469.0 L1896.5,468.9 L1897.5,468.8 L1898.5,468.8 L1899.5,469.1 L1900.5,469.4 L1901.5,469.5 L1902.5,469.3 L1903.5,468.7 L1904.5,468.4 L1905.5,468.5 L1906.5,468.9 L1907.5,469.3 L1908.5,469.5 L1909.5,469.5 L1910.5,469.5 L1911.5,469.9 L1912.5,470.3 L1913.5,470.5 L1914.5,470.2 L1915.5,469.5 L1916.5,468.6 L1917.5,468.3 L1918.5,468.5 L1919.5,469.2 L1920.5,469.5 L1921.5,469.4 L1922.5,469.2 L1923.5,469.2 L1924.5,469.1 L1925.5,468.6 L1926.5,467.8 L1927.5,467.2 L1928.5,467.5 L1929.5,468.4 L1930.5,469.4 L1931.5,469.9 L1932.5,469.7 L1933.5,469.0 L1934.5,468.3 L1935.5,468.2 L1936.5,468.9 L1937.5,469.5 L1938.5,469.5 L1939.5,469.3 L1940.5,469.3 L1941.5,469.3 L1942.5,469.1 L1943.5,468.5 L1944.5,467.9 L1945.5,467.7 L1946.5,467.9 L1947.5,468.2 L1948.5,468.7 L1949.5,469.3 L1950.5,469.5 L1951.5,469.6 L1952.5,470.0 L1953.5,470.3 L1954.5,470.1 L1955.5,469.6 L1956.5,469.0 L1957.5,468.3 L1958.5,468.1 L1959.5,468.2 L1960.5,468.3 L1961.5,468.2 L1962.5,468.2 L1963.5,468.3 L1964.5,468.5 L1965.5,468.7 L1966.5,468.7 L1967.5,468.4 L1968.5,468.1 L1969.5,468.2 L1970.5,468.5 L1971.5,468.7 L1972.5,468.7 L1973.5,468.4 L1974.5,467.9 L1975.5,467.4 L1976.5,467.6 L1977.5,468.2 L1978.5,468.4 L1979.5,468.2 L1980.5,468.1 L1981.5,468.2 L1982.5,468.6 L1983.5,468.7 L1984.5,468.1 L1985.5,467.5 L1986.5,467.6 L1987.5,468.5"/>
</g>
<g fill="#000" shape-rendering="crispEdges">
<circle cx="686.5" cy="358" r="10.8"/>
<circle cx="858.25" cy="198.25" r="10.8"/>
<circle cx="1408.25" cy="416.5" r="10.8"/>
<circle cx="1772.25" cy="380" r="10.8"/>
<circle cx="685.5" cy="571.75" r="10.8"/>
<circle cx="848.25" cy="504.5" r="10.8"/>
<circle cx="1404.25" cy="690.25" r="10.8"/>
<circle cx="1766.25" cy="549.25" r="10.8"/>
<circle cx="690.5" cy="833.25" r="10.8"/>
<circle cx="852.25" cy="731.25" r="10.8"/>
<circle cx="1403.5" cy="979.25" r="10.8"/>
<circle cx="1769.25" cy="896.25" r="10.8"/>
<circle cx="686.5" cy="1225.25" r="10.8"/>
<circle cx="849.25" cy="1185.25" r="10.8"/>
<circle cx="1398.25" cy="1279.25" r="10.8"/>
<circle cx="1764.25" cy="1223.25" r="10.8"/>
<circle cx="1710.3" cy="213.2" r="10.8"/>
<polygon points="718.25,238.0 731.95,255 718.25,272.0 704.55,255"/>
<polygon points="1176.25,406.75 1189.95,423.75 1176.25,440.75 1162.55,423.75"/>
<polygon points="1572.25,405.75 1585.95,422.75 1572.25,439.75 1558.55,422.75"/>
<polygon points="710.25,576.0 723.95,593 710.25,610.0 696.55,593"/>
<polygon points="1172.25,696.75 1185.95,713.75 1172.25,730.75 1158.55,713.75"/>
<polygon points="1564.25,693.75 1577.95,710.75 1564.25,727.75 1550.55,710.75"/>
<polygon points="715.25,855.75 728.95,872.75 715.25,889.75 701.55,872.75"/>
<polygon points="1171.5,986.0 1185.2,1003 1171.5,1020.0 1157.8,1003"/>
<polygon points="1565.25,979.75 1578.95,996.75 1565.25,1013.75 1551.55,996.75"/>
<polygon points="714.5,1270.75 728.2,1287.75 714.5,1304.75 700.8,1287.75"/>
<polygon points="1168.5,1282.5 1182.2,1299.5 1168.5,1316.5 1154.8,1299.5"/>
<polygon points="1568.25,1278.75 1581.95,1295.75 1568.25,1312.75 1554.55,1295.75"/>
<polygon points="1710.5,106.8 1724.2,123.8 1710.5,140.8 1696.8,123.8"/>
</g>
<text transform="translate(148.2,1511.3) scale(0.962,1)" font-size="80" text-anchor="middle">20</text>
<text transform="translate(608.1,1511.3) scale(0.962,1)" font-size="80" text-anchor="middle">40</text>
<text transform="translate(1067.4,1511.3) scale(0.962,1)" font-size="80" text-anchor="middle">60</text>
<text transform="translate(1526.7,1511.3) scale(0.962,1)" font-size="80" text-anchor="middle">80</text>
<text transform="translate(1987.4,1511.3) scale(0.962,1)" font-size="80" text-anchor="middle">100</text>
<text x="268.2" y="435" font-size="70.7" text-anchor="start" >2.5 kW</text>
<text x="267" y="724.5" font-size="70.7" text-anchor="start" >2.3 kW</text>
<text x="273.2" y="1000.75" font-size="70.7" text-anchor="start" >2.1 kW</text>
<text x="273.3" y="1298.6" font-size="70.7" text-anchor="start" >1.9 kW</text>
<text x="534.3" y="315" font-size="75.5" text-anchor="start" >(111)</text>
<text x="632.5" y="194.25" font-size="75.5" text-anchor="start" >(110)</text>
<text x="829.3" y="162" font-size="75.5" text-anchor="start" >(200)</text>
<text x="1090.5" y="361" font-size="75.5" text-anchor="start" >(200)</text>
<text x="1325.6" y="359.75" font-size="75.5" text-anchor="start" >(220)</text>
<text x="1505.5" y="368.75" font-size="75.5" text-anchor="start" >(220)</text>
<text x="1706.3" y="339" font-size="75.5" text-anchor="start" >(311)</text>
<text y="136" font-size="70"><tspan x="1743.9" textLength="43.4" lengthAdjust="spacingAndGlyphs">α</tspan><tspan x="1786.5 1809.6 1853.2">-Fe</tspan></text>
<text y="225.8" font-size="70"><tspan x="1757.5" font-size="66">γ</tspan><tspan x="1785.5 1808.6 1852.5">-Fe</tspan></text>
<text y="1605.2" font-size="78.5"><tspan x="876">2</tspan><tspan x="912.8" dy="1.4" font-size="71" font-weight="normal" textLength="39.6" lengthAdjust="spacingAndGlyphs">θ</tspan><tspan x="956" dy="-1.0" font-size="61.2"> </tspan><tspan x="968.9" font-size="61.2" letter-spacing="-3.2" textLength="64.2" lengthAdjust="spacingAndGlyphs">(°)</tspan></text>
<text transform="translate(94.7,681.7) rotate(-90)" font-size="77" text-anchor="middle">Intensity (a.u.)</text>
</svg></body></html>
